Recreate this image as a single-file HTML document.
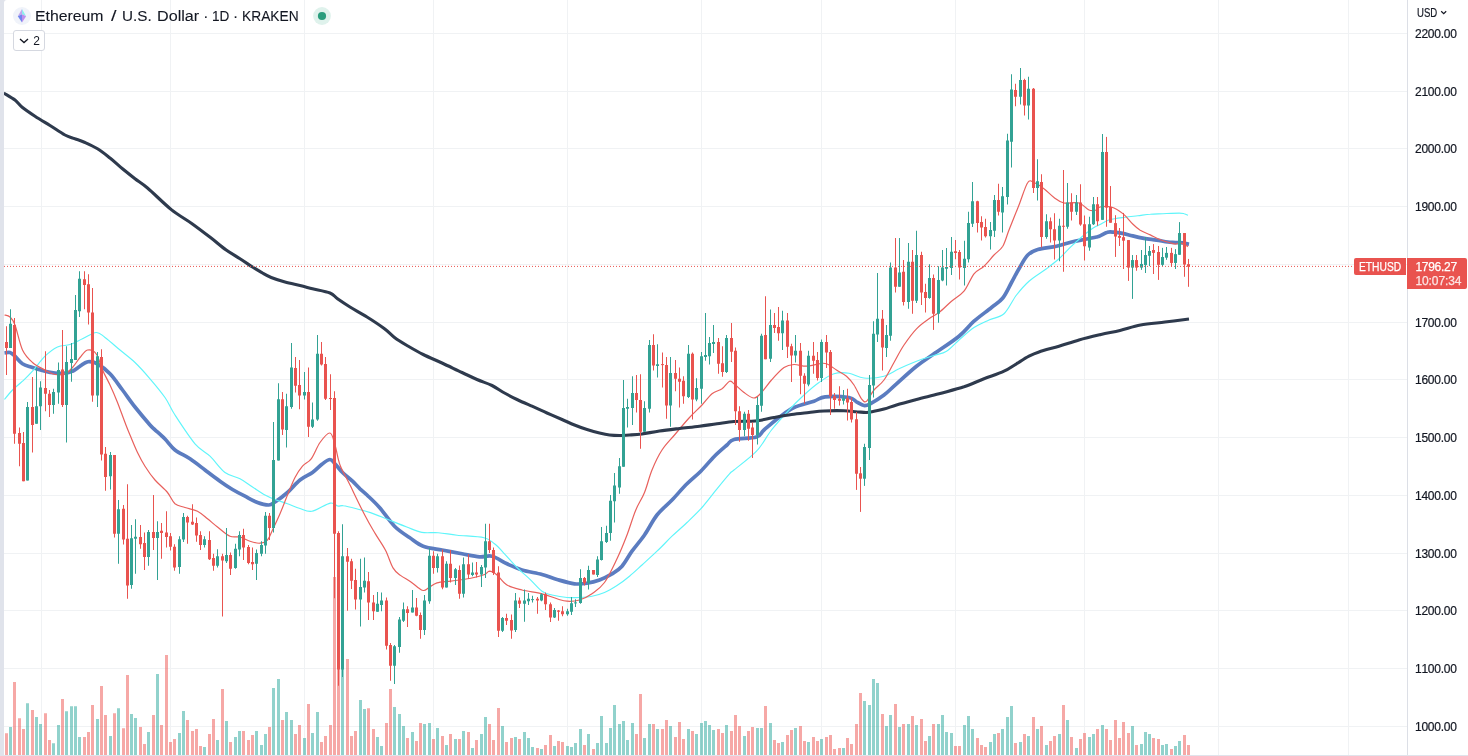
<!DOCTYPE html>
<html><head><meta charset="utf-8"><title>ETHUSD</title>
<style>
html,body{margin:0;padding:0;background:#fff;}
body{width:1468px;height:756px;position:relative;overflow:hidden;font-family:"Liberation Sans",sans-serif;color:#131722;}
.strip{position:absolute;left:0;top:0;width:4px;height:756px;background:#e0e3eb;}
.corner{position:absolute;left:3.6px;top:0;width:8px;height:8px;background:#e0e3eb;}
.corner i{position:absolute;left:0;top:0;width:16px;height:16px;background:#fff;border-radius:3px 0 0 0;display:block}
.bottom{position:absolute;left:0;top:755px;width:1468px;height:1px;background:#e0e3eb;}
.pl{font-kerning:none;-webkit-text-stroke:0.2px #131722;position:absolute;left:1415px;font-size:12px;line-height:14px;letter-spacing:-0.26px;white-space:nowrap;color:#131722}
.title{position:absolute;left:35px;top:7px;font-size:15.4px;line-height:18px;white-space:nowrap;color:#131722;-webkit-text-stroke:0.1px #131722}
.title span{position:absolute;top:0;transform-origin:0 0;display:block}
.usd{-webkit-text-stroke:0.2px #131722;position:absolute;left:1417px;top:6px;font-size:12px;line-height:14px;transform:scaleX(0.8);transform-origin:0 0}
.tag{font-kerning:none;-webkit-text-stroke:0.25px #fff;position:absolute;background:#e9534f;color:#fff;font-size:12px;line-height:14px;white-space:nowrap}
.btn{position:absolute;left:13px;top:30px;width:29.5px;height:18.5px;border:1px solid #d5d8e0;border-radius:3px;background:#fff;font-size:12px}
</style></head><body>
<svg width="1468" height="756" viewBox="0 0 1468 756" style="position:absolute;left:0;top:0">
<g stroke="#f0f2f4" stroke-width="1" shape-rendering="crispEdges">
<line x1="4" x2="1407" y1="726.35" y2="726.35"/>
<line x1="4" x2="1407" y1="668.60" y2="668.60"/>
<line x1="4" x2="1407" y1="610.85" y2="610.85"/>
<line x1="4" x2="1407" y1="553.10" y2="553.10"/>
<line x1="4" x2="1407" y1="495.35" y2="495.35"/>
<line x1="4" x2="1407" y1="437.60" y2="437.60"/>
<line x1="4" x2="1407" y1="379.85" y2="379.85"/>
<line x1="4" x2="1407" y1="322.10" y2="322.10"/>
<line x1="4" x2="1407" y1="264.35" y2="264.35"/>
<line x1="4" x2="1407" y1="206.60" y2="206.60"/>
<line x1="4" x2="1407" y1="148.85" y2="148.85"/>
<line x1="4" x2="1407" y1="91.10" y2="91.10"/>
<line x1="4" x2="1407" y1="33.35" y2="33.35"/>
<line x1="41.50" x2="41.50" y1="0" y2="755"/>
<line x1="170.50" x2="170.50" y1="0" y2="755"/>
<line x1="304.60" x2="304.60" y1="0" y2="755"/>
<line x1="433.50" x2="433.50" y1="0" y2="755"/>
<line x1="567.30" x2="567.30" y1="0" y2="755"/>
<line x1="701.00" x2="701.00" y1="0" y2="755"/>
<line x1="821.70" x2="821.70" y1="0" y2="755"/>
<line x1="955.50" x2="955.50" y1="0" y2="755"/>
<line x1="1084.70" x2="1084.70" y1="0" y2="755"/>
<line x1="1218.40" x2="1218.40" y1="0" y2="755"/>
<line x1="1348.60" x2="1348.60" y1="0" y2="755"/>
</g>
<g opacity="0.5">
<rect x="5.00" y="733.25" width="3" height="21.75" fill="#ef5350"/>
<rect x="9.00" y="727.00" width="3" height="28.00" fill="#26a69a"/>
<rect x="13.00" y="682.00" width="3" height="73.00" fill="#ef5350"/>
<rect x="18.00" y="718.25" width="3" height="36.75" fill="#ef5350"/>
<rect x="22.00" y="729.00" width="3" height="26.00" fill="#ef5350"/>
<rect x="26.00" y="703.25" width="3" height="51.75" fill="#26a69a"/>
<rect x="31.00" y="710.00" width="3" height="45.00" fill="#ef5350"/>
<rect x="35.00" y="717.00" width="3" height="38.00" fill="#26a69a"/>
<rect x="39.00" y="724.00" width="3" height="31.00" fill="#26a69a"/>
<rect x="44.00" y="713.25" width="3" height="41.75" fill="#ef5350"/>
<rect x="48.00" y="740.00" width="3" height="15.00" fill="#ef5350"/>
<rect x="52.00" y="743.25" width="3" height="11.75" fill="#26a69a"/>
<rect x="57.00" y="725.00" width="3" height="30.00" fill="#26a69a"/>
<rect x="61.00" y="699.00" width="3" height="56.00" fill="#ef5350"/>
<rect x="65.00" y="711.25" width="3" height="43.75" fill="#26a69a"/>
<rect x="70.00" y="706.25" width="3" height="48.75" fill="#26a69a"/>
<rect x="74.00" y="706.25" width="3" height="48.75" fill="#26a69a"/>
<rect x="78.00" y="737.00" width="3" height="18.00" fill="#26a69a"/>
<rect x="83.00" y="737.00" width="3" height="18.00" fill="#ef5350"/>
<rect x="87.00" y="732.00" width="3" height="23.00" fill="#ef5350"/>
<rect x="91.00" y="705.00" width="3" height="50.00" fill="#ef5350"/>
<rect x="96.00" y="719.00" width="3" height="36.00" fill="#26a69a"/>
<rect x="100.00" y="686.00" width="3" height="69.00" fill="#ef5350"/>
<rect x="104.00" y="715.00" width="3" height="40.00" fill="#ef5350"/>
<rect x="109.00" y="736.00" width="3" height="19.00" fill="#26a69a"/>
<rect x="113.00" y="713.25" width="3" height="41.75" fill="#ef5350"/>
<rect x="117.00" y="708.25" width="3" height="46.75" fill="#26a69a"/>
<rect x="122.00" y="728.25" width="3" height="26.75" fill="#ef5350"/>
<rect x="126.00" y="675.00" width="3" height="80.00" fill="#ef5350"/>
<rect x="130.00" y="714.00" width="3" height="41.00" fill="#26a69a"/>
<rect x="134.00" y="718.00" width="3" height="37.00" fill="#26a69a"/>
<rect x="139.00" y="727.00" width="3" height="28.00" fill="#ef5350"/>
<rect x="143.00" y="744.00" width="3" height="11.00" fill="#ef5350"/>
<rect x="147.00" y="732.00" width="3" height="23.00" fill="#26a69a"/>
<rect x="152.00" y="715.00" width="3" height="40.00" fill="#ef5350"/>
<rect x="156.00" y="674.00" width="3" height="81.00" fill="#26a69a"/>
<rect x="160.00" y="725.00" width="3" height="30.00" fill="#ef5350"/>
<rect x="165.00" y="655.00" width="3" height="100.00" fill="#ef5350"/>
<rect x="169.00" y="742.00" width="3" height="13.00" fill="#ef5350"/>
<rect x="173.00" y="739.00" width="3" height="16.00" fill="#ef5350"/>
<rect x="178.00" y="733.00" width="3" height="22.00" fill="#26a69a"/>
<rect x="182.00" y="711.00" width="3" height="44.00" fill="#26a69a"/>
<rect x="186.00" y="720.00" width="3" height="35.00" fill="#ef5350"/>
<rect x="191.00" y="731.00" width="3" height="24.00" fill="#ef5350"/>
<rect x="195.00" y="729.00" width="3" height="26.00" fill="#ef5350"/>
<rect x="199.00" y="746.00" width="3" height="9.00" fill="#ef5350"/>
<rect x="203.00" y="747.00" width="3" height="8.00" fill="#26a69a"/>
<rect x="208.00" y="734.00" width="3" height="21.00" fill="#ef5350"/>
<rect x="212.00" y="719.00" width="3" height="36.00" fill="#ef5350"/>
<rect x="216.00" y="740.00" width="3" height="15.00" fill="#26a69a"/>
<rect x="221.00" y="689.00" width="3" height="66.00" fill="#ef5350"/>
<rect x="225.00" y="721.00" width="3" height="34.00" fill="#26a69a"/>
<rect x="229.00" y="742.00" width="3" height="13.00" fill="#ef5350"/>
<rect x="234.00" y="737.00" width="3" height="18.00" fill="#26a69a"/>
<rect x="238.00" y="731.00" width="3" height="24.00" fill="#26a69a"/>
<rect x="242.00" y="731.00" width="3" height="24.00" fill="#ef5350"/>
<rect x="247.00" y="740.00" width="3" height="15.00" fill="#ef5350"/>
<rect x="251.00" y="735.00" width="3" height="20.00" fill="#ef5350"/>
<rect x="255.00" y="731.00" width="3" height="24.00" fill="#26a69a"/>
<rect x="260.00" y="745.00" width="3" height="10.00" fill="#26a69a"/>
<rect x="264.00" y="734.00" width="3" height="21.00" fill="#26a69a"/>
<rect x="268.00" y="727.00" width="3" height="28.00" fill="#ef5350"/>
<rect x="272.00" y="688.00" width="3" height="67.00" fill="#26a69a"/>
<rect x="277.00" y="679.00" width="3" height="76.00" fill="#26a69a"/>
<rect x="281.00" y="720.00" width="3" height="35.00" fill="#ef5350"/>
<rect x="285.00" y="712.00" width="3" height="43.00" fill="#26a69a"/>
<rect x="290.00" y="720.00" width="3" height="35.00" fill="#26a69a"/>
<rect x="294.00" y="734.00" width="3" height="21.00" fill="#ef5350"/>
<rect x="298.00" y="725.00" width="3" height="30.00" fill="#ef5350"/>
<rect x="303.00" y="738.00" width="3" height="17.00" fill="#26a69a"/>
<rect x="307.00" y="704.00" width="3" height="51.00" fill="#ef5350"/>
<rect x="311.00" y="733.00" width="3" height="22.00" fill="#26a69a"/>
<rect x="316.00" y="712.00" width="3" height="43.00" fill="#26a69a"/>
<rect x="320.00" y="742.00" width="3" height="13.00" fill="#ef5350"/>
<rect x="324.00" y="736.00" width="3" height="19.00" fill="#ef5350"/>
<rect x="329.00" y="725.00" width="3" height="30.00" fill="#ef5350"/>
<rect x="333.00" y="577.00" width="3" height="178.00" fill="#ef5350"/>
<rect x="337.00" y="629.50" width="3" height="125.50" fill="#ef5350"/>
<rect x="341.00" y="644.00" width="3" height="111.00" fill="#26a69a"/>
<rect x="346.00" y="659.00" width="3" height="96.00" fill="#ef5350"/>
<rect x="350.00" y="736.00" width="3" height="19.00" fill="#ef5350"/>
<rect x="354.00" y="731.00" width="3" height="24.00" fill="#ef5350"/>
<rect x="359.00" y="700.00" width="3" height="55.00" fill="#26a69a"/>
<rect x="363.00" y="709.00" width="3" height="46.00" fill="#26a69a"/>
<rect x="367.00" y="708.25" width="3" height="46.75" fill="#ef5350"/>
<rect x="372.00" y="729.00" width="3" height="26.00" fill="#ef5350"/>
<rect x="376.00" y="737.00" width="3" height="18.00" fill="#26a69a"/>
<rect x="380.00" y="746.00" width="3" height="9.00" fill="#26a69a"/>
<rect x="385.00" y="723.00" width="3" height="32.00" fill="#ef5350"/>
<rect x="389.00" y="689.00" width="3" height="66.00" fill="#ef5350"/>
<rect x="393.00" y="707.00" width="3" height="48.00" fill="#26a69a"/>
<rect x="398.00" y="714.00" width="3" height="41.00" fill="#26a69a"/>
<rect x="402.00" y="726.00" width="3" height="29.00" fill="#26a69a"/>
<rect x="406.00" y="738.00" width="3" height="17.00" fill="#ef5350"/>
<rect x="411.00" y="732.00" width="3" height="23.00" fill="#26a69a"/>
<rect x="415.00" y="741.00" width="3" height="14.00" fill="#ef5350"/>
<rect x="419.00" y="723.00" width="3" height="32.00" fill="#ef5350"/>
<rect x="423.00" y="724.00" width="3" height="31.00" fill="#26a69a"/>
<rect x="428.00" y="723.00" width="3" height="32.00" fill="#26a69a"/>
<rect x="432.00" y="739.00" width="3" height="16.00" fill="#ef5350"/>
<rect x="436.00" y="728.00" width="3" height="27.00" fill="#26a69a"/>
<rect x="441.00" y="736.00" width="3" height="19.00" fill="#ef5350"/>
<rect x="445.00" y="745.00" width="3" height="10.00" fill="#26a69a"/>
<rect x="449.00" y="734.00" width="3" height="21.00" fill="#ef5350"/>
<rect x="454.00" y="739.00" width="3" height="16.00" fill="#26a69a"/>
<rect x="458.00" y="739.00" width="3" height="16.00" fill="#ef5350"/>
<rect x="462.00" y="731.00" width="3" height="24.00" fill="#26a69a"/>
<rect x="467.00" y="732.00" width="3" height="23.00" fill="#ef5350"/>
<rect x="471.00" y="748.00" width="3" height="7.00" fill="#26a69a"/>
<rect x="475.00" y="740.00" width="3" height="15.00" fill="#ef5350"/>
<rect x="480.00" y="734.00" width="3" height="21.00" fill="#26a69a"/>
<rect x="484.00" y="717.00" width="3" height="38.00" fill="#26a69a"/>
<rect x="488.00" y="724.00" width="3" height="31.00" fill="#ef5350"/>
<rect x="492.00" y="740.00" width="3" height="15.00" fill="#ef5350"/>
<rect x="497.00" y="708.00" width="3" height="47.00" fill="#ef5350"/>
<rect x="501.00" y="726.00" width="3" height="29.00" fill="#26a69a"/>
<rect x="505.00" y="742.00" width="3" height="13.00" fill="#ef5350"/>
<rect x="510.00" y="738.00" width="3" height="17.00" fill="#ef5350"/>
<rect x="514.00" y="737.00" width="3" height="18.00" fill="#26a69a"/>
<rect x="518.00" y="739.00" width="3" height="16.00" fill="#ef5350"/>
<rect x="523.00" y="732.00" width="3" height="23.00" fill="#26a69a"/>
<rect x="527.00" y="738.00" width="3" height="17.00" fill="#26a69a"/>
<rect x="531.00" y="747.00" width="3" height="8.00" fill="#26a69a"/>
<rect x="536.00" y="748.00" width="3" height="7.00" fill="#ef5350"/>
<rect x="540.00" y="749.00" width="3" height="6.00" fill="#26a69a"/>
<rect x="544.00" y="745.00" width="3" height="10.00" fill="#ef5350"/>
<rect x="549.00" y="735.00" width="3" height="20.00" fill="#ef5350"/>
<rect x="553.00" y="746.00" width="3" height="9.00" fill="#26a69a"/>
<rect x="557.00" y="741.00" width="3" height="14.00" fill="#ef5350"/>
<rect x="561.00" y="742.00" width="3" height="13.00" fill="#ef5350"/>
<rect x="566.00" y="746.00" width="3" height="9.00" fill="#26a69a"/>
<rect x="570.00" y="747.00" width="3" height="8.00" fill="#26a69a"/>
<rect x="574.00" y="743.00" width="3" height="12.00" fill="#26a69a"/>
<rect x="579.00" y="729.00" width="3" height="26.00" fill="#26a69a"/>
<rect x="583.00" y="745.00" width="3" height="10.00" fill="#ef5350"/>
<rect x="587.00" y="734.00" width="3" height="21.00" fill="#26a69a"/>
<rect x="592.00" y="749.00" width="3" height="6.00" fill="#ef5350"/>
<rect x="596.00" y="743.00" width="3" height="12.00" fill="#26a69a"/>
<rect x="600.00" y="716.00" width="3" height="39.00" fill="#26a69a"/>
<rect x="605.00" y="743.00" width="3" height="12.00" fill="#26a69a"/>
<rect x="609.00" y="728.00" width="3" height="27.00" fill="#26a69a"/>
<rect x="613.00" y="705.00" width="3" height="50.00" fill="#26a69a"/>
<rect x="618.00" y="724.00" width="3" height="31.00" fill="#26a69a"/>
<rect x="622.00" y="721.00" width="3" height="34.00" fill="#26a69a"/>
<rect x="626.00" y="740.00" width="3" height="15.00" fill="#26a69a"/>
<rect x="631.00" y="723.00" width="3" height="32.00" fill="#26a69a"/>
<rect x="635.00" y="734.00" width="3" height="21.00" fill="#ef5350"/>
<rect x="639.00" y="694.00" width="3" height="61.00" fill="#ef5350"/>
<rect x="643.00" y="738.00" width="3" height="17.00" fill="#26a69a"/>
<rect x="648.00" y="724.00" width="3" height="31.00" fill="#26a69a"/>
<rect x="652.00" y="724.00" width="3" height="31.00" fill="#ef5350"/>
<rect x="656.00" y="729.00" width="3" height="26.00" fill="#26a69a"/>
<rect x="661.00" y="729.00" width="3" height="26.00" fill="#ef5350"/>
<rect x="665.00" y="720.00" width="3" height="35.00" fill="#ef5350"/>
<rect x="669.00" y="726.00" width="3" height="29.00" fill="#26a69a"/>
<rect x="674.00" y="737.00" width="3" height="18.00" fill="#ef5350"/>
<rect x="678.00" y="722.00" width="3" height="33.00" fill="#ef5350"/>
<rect x="682.00" y="739.00" width="3" height="16.00" fill="#ef5350"/>
<rect x="687.00" y="729.00" width="3" height="26.00" fill="#26a69a"/>
<rect x="691.00" y="731.00" width="3" height="24.00" fill="#ef5350"/>
<rect x="695.00" y="734.00" width="3" height="21.00" fill="#26a69a"/>
<rect x="700.00" y="723.00" width="3" height="32.00" fill="#26a69a"/>
<rect x="704.00" y="721.00" width="3" height="34.00" fill="#26a69a"/>
<rect x="708.00" y="725.00" width="3" height="30.00" fill="#26a69a"/>
<rect x="712.00" y="730.00" width="3" height="25.00" fill="#26a69a"/>
<rect x="717.00" y="729.00" width="3" height="26.00" fill="#ef5350"/>
<rect x="721.00" y="733.00" width="3" height="22.00" fill="#ef5350"/>
<rect x="725.00" y="725.00" width="3" height="30.00" fill="#26a69a"/>
<rect x="730.00" y="731.00" width="3" height="24.00" fill="#ef5350"/>
<rect x="734.00" y="715.00" width="3" height="40.00" fill="#ef5350"/>
<rect x="738.00" y="726.00" width="3" height="29.00" fill="#ef5350"/>
<rect x="743.00" y="736.00" width="3" height="19.00" fill="#26a69a"/>
<rect x="747.00" y="731.00" width="3" height="24.00" fill="#ef5350"/>
<rect x="751.00" y="727.00" width="3" height="28.00" fill="#ef5350"/>
<rect x="756.00" y="728.00" width="3" height="27.00" fill="#26a69a"/>
<rect x="760.00" y="728.00" width="3" height="27.00" fill="#26a69a"/>
<rect x="764.00" y="706.00" width="3" height="49.00" fill="#ef5350"/>
<rect x="769.00" y="723.00" width="3" height="32.00" fill="#26a69a"/>
<rect x="773.00" y="740.00" width="3" height="15.00" fill="#ef5350"/>
<rect x="777.00" y="743.00" width="3" height="12.00" fill="#ef5350"/>
<rect x="781.00" y="742.00" width="3" height="13.00" fill="#26a69a"/>
<rect x="786.00" y="735.00" width="3" height="20.00" fill="#ef5350"/>
<rect x="790.00" y="730.00" width="3" height="25.00" fill="#ef5350"/>
<rect x="794.00" y="728.00" width="3" height="27.00" fill="#26a69a"/>
<rect x="799.00" y="726.00" width="3" height="29.00" fill="#ef5350"/>
<rect x="803.00" y="741.00" width="3" height="14.00" fill="#ef5350"/>
<rect x="807.00" y="742.00" width="3" height="13.00" fill="#26a69a"/>
<rect x="812.00" y="737.00" width="3" height="18.00" fill="#ef5350"/>
<rect x="816.00" y="741.00" width="3" height="14.00" fill="#ef5350"/>
<rect x="820.00" y="739.00" width="3" height="16.00" fill="#26a69a"/>
<rect x="825.00" y="737.00" width="3" height="18.00" fill="#ef5350"/>
<rect x="829.00" y="735.00" width="3" height="20.00" fill="#ef5350"/>
<rect x="833.00" y="749.00" width="3" height="6.00" fill="#ef5350"/>
<rect x="838.00" y="748.00" width="3" height="7.00" fill="#ef5350"/>
<rect x="842.00" y="748.00" width="3" height="7.00" fill="#26a69a"/>
<rect x="846.00" y="738.00" width="3" height="17.00" fill="#ef5350"/>
<rect x="850.00" y="744.00" width="3" height="11.00" fill="#ef5350"/>
<rect x="855.00" y="724.00" width="3" height="31.00" fill="#ef5350"/>
<rect x="859.00" y="693.00" width="3" height="62.00" fill="#ef5350"/>
<rect x="863.00" y="701.00" width="3" height="54.00" fill="#26a69a"/>
<rect x="868.00" y="705.00" width="3" height="50.00" fill="#26a69a"/>
<rect x="872.00" y="679.00" width="3" height="76.00" fill="#26a69a"/>
<rect x="876.00" y="683.00" width="3" height="72.00" fill="#26a69a"/>
<rect x="881.00" y="714.00" width="3" height="41.00" fill="#ef5350"/>
<rect x="885.00" y="726.00" width="3" height="29.00" fill="#26a69a"/>
<rect x="889.00" y="715.00" width="3" height="40.00" fill="#26a69a"/>
<rect x="894.00" y="704.00" width="3" height="51.00" fill="#ef5350"/>
<rect x="898.00" y="727.00" width="3" height="28.00" fill="#26a69a"/>
<rect x="902.00" y="724.00" width="3" height="31.00" fill="#ef5350"/>
<rect x="907.00" y="724.00" width="3" height="31.00" fill="#26a69a"/>
<rect x="911.00" y="716.00" width="3" height="39.00" fill="#ef5350"/>
<rect x="915.00" y="725.00" width="3" height="30.00" fill="#26a69a"/>
<rect x="920.00" y="719.00" width="3" height="36.00" fill="#ef5350"/>
<rect x="924.00" y="741.00" width="3" height="14.00" fill="#ef5350"/>
<rect x="928.00" y="736.00" width="3" height="19.00" fill="#26a69a"/>
<rect x="932.00" y="724.00" width="3" height="31.00" fill="#ef5350"/>
<rect x="937.00" y="724.00" width="3" height="31.00" fill="#26a69a"/>
<rect x="941.00" y="715.00" width="3" height="40.00" fill="#26a69a"/>
<rect x="945.00" y="732.00" width="3" height="23.00" fill="#26a69a"/>
<rect x="950.00" y="733.00" width="3" height="22.00" fill="#26a69a"/>
<rect x="954.00" y="746.00" width="3" height="9.00" fill="#ef5350"/>
<rect x="958.00" y="746.00" width="3" height="9.00" fill="#ef5350"/>
<rect x="963.00" y="725.00" width="3" height="30.00" fill="#26a69a"/>
<rect x="967.00" y="716.00" width="3" height="39.00" fill="#26a69a"/>
<rect x="971.00" y="729.00" width="3" height="26.00" fill="#26a69a"/>
<rect x="976.00" y="738.00" width="3" height="17.00" fill="#ef5350"/>
<rect x="980.00" y="745.00" width="3" height="10.00" fill="#ef5350"/>
<rect x="984.00" y="747.00" width="3" height="8.00" fill="#ef5350"/>
<rect x="989.00" y="742.00" width="3" height="13.00" fill="#26a69a"/>
<rect x="993.00" y="734.00" width="3" height="21.00" fill="#26a69a"/>
<rect x="997.00" y="733.00" width="3" height="22.00" fill="#ef5350"/>
<rect x="1001.00" y="729.00" width="3" height="26.00" fill="#26a69a"/>
<rect x="1006.00" y="717.00" width="3" height="38.00" fill="#26a69a"/>
<rect x="1010.00" y="706.00" width="3" height="49.00" fill="#26a69a"/>
<rect x="1014.00" y="743.00" width="3" height="12.00" fill="#ef5350"/>
<rect x="1019.00" y="742.00" width="3" height="13.00" fill="#26a69a"/>
<rect x="1023.00" y="734.00" width="3" height="21.00" fill="#ef5350"/>
<rect x="1027.00" y="736.00" width="3" height="19.00" fill="#26a69a"/>
<rect x="1032.00" y="717.00" width="3" height="38.00" fill="#ef5350"/>
<rect x="1036.00" y="729.00" width="3" height="26.00" fill="#26a69a"/>
<rect x="1040.00" y="726.00" width="3" height="29.00" fill="#ef5350"/>
<rect x="1045.00" y="745.00" width="3" height="10.00" fill="#26a69a"/>
<rect x="1049.00" y="741.00" width="3" height="14.00" fill="#ef5350"/>
<rect x="1053.00" y="736.00" width="3" height="19.00" fill="#ef5350"/>
<rect x="1058.00" y="734.00" width="3" height="21.00" fill="#26a69a"/>
<rect x="1062.00" y="705.00" width="3" height="50.00" fill="#ef5350"/>
<rect x="1066.00" y="720.00" width="3" height="35.00" fill="#26a69a"/>
<rect x="1070.00" y="737.00" width="3" height="18.00" fill="#ef5350"/>
<rect x="1075.00" y="748.00" width="3" height="7.00" fill="#26a69a"/>
<rect x="1079.00" y="739.00" width="3" height="16.00" fill="#ef5350"/>
<rect x="1083.00" y="733.00" width="3" height="22.00" fill="#ef5350"/>
<rect x="1088.00" y="737.00" width="3" height="18.00" fill="#26a69a"/>
<rect x="1092.00" y="734.00" width="3" height="21.00" fill="#26a69a"/>
<rect x="1096.00" y="729.00" width="3" height="26.00" fill="#ef5350"/>
<rect x="1101.00" y="725.00" width="3" height="30.00" fill="#26a69a"/>
<rect x="1105.00" y="729.00" width="3" height="26.00" fill="#ef5350"/>
<rect x="1109.00" y="740.00" width="3" height="15.00" fill="#ef5350"/>
<rect x="1114.00" y="720.00" width="3" height="35.00" fill="#ef5350"/>
<rect x="1118.00" y="738.00" width="3" height="17.00" fill="#ef5350"/>
<rect x="1122.00" y="722.00" width="3" height="33.00" fill="#ef5350"/>
<rect x="1127.00" y="733.00" width="3" height="22.00" fill="#ef5350"/>
<rect x="1131.00" y="726.00" width="3" height="29.00" fill="#26a69a"/>
<rect x="1135.00" y="745.00" width="3" height="10.00" fill="#ef5350"/>
<rect x="1140.00" y="744.00" width="3" height="11.00" fill="#26a69a"/>
<rect x="1144.00" y="732.00" width="3" height="23.00" fill="#26a69a"/>
<rect x="1148.00" y="734.00" width="3" height="21.00" fill="#26a69a"/>
<rect x="1152.00" y="738.00" width="3" height="17.00" fill="#ef5350"/>
<rect x="1157.00" y="739.00" width="3" height="16.00" fill="#ef5350"/>
<rect x="1161.00" y="745.00" width="3" height="10.00" fill="#26a69a"/>
<rect x="1165.00" y="744.00" width="3" height="11.00" fill="#26a69a"/>
<rect x="1170.00" y="749.00" width="3" height="6.00" fill="#ef5350"/>
<rect x="1174.00" y="746.00" width="3" height="9.00" fill="#26a69a"/>
<rect x="1178.00" y="741.00" width="3" height="14.00" fill="#26a69a"/>
<rect x="1183.00" y="735.00" width="3" height="20.00" fill="#ef5350"/>
<rect x="1187.00" y="745.00" width="3" height="10.00" fill="#ef5350"/>
</g>
<path d="M4.5,353.0 C5.4,352.9 8.2,352.0 10.0,352.5 C11.8,353.0 12.9,354.4 15.0,356.2 C17.1,358.1 19.6,361.9 22.5,363.8 C25.4,365.6 28.8,366.2 32.5,367.5 C36.2,368.8 41.2,370.3 45.0,371.2 C48.8,372.2 51.7,372.7 55.0,373.0 C58.3,373.3 62.1,373.5 65.0,373.2 C67.9,373.0 70.0,372.4 72.5,371.2 C75.0,370.1 77.5,367.8 80.0,366.2 C82.5,364.7 84.6,362.2 87.5,361.8 C90.4,361.3 93.8,361.8 97.5,363.8 C101.2,365.8 105.8,369.4 110.0,373.8 C114.2,378.1 118.3,384.5 122.5,390.0 C126.7,395.5 130.4,401.2 135.0,407.0 C139.6,412.8 146.7,421.2 150.0,425.0 C153.3,428.8 152.5,427.4 155.0,429.8 C157.5,432.1 161.7,435.6 165.0,439.0 C168.3,442.4 170.8,446.7 175.0,450.0 C179.2,453.3 185.0,455.4 190.0,458.8 C195.0,462.1 200.0,466.2 205.0,470.0 C210.0,473.8 215.4,478.0 220.0,481.2 C224.6,484.5 228.3,487.0 232.5,489.5 C236.7,492.0 240.8,494.1 245.0,496.2 C249.2,498.4 253.5,501.0 257.5,502.5 C261.5,504.0 265.8,505.1 268.8,505.0 C271.7,504.9 271.9,504.1 275.0,502.0 C278.1,499.9 283.3,496.2 287.5,492.5 C291.7,488.8 295.8,483.3 300.0,480.0 C304.2,476.7 308.8,475.2 312.5,472.5 C316.2,469.8 319.6,465.9 322.5,463.8 C325.4,461.6 327.9,459.5 330.0,459.5 C332.1,459.5 332.9,461.6 335.0,463.8 C337.1,465.9 339.6,469.6 342.5,472.5 C345.4,475.4 349.6,478.5 352.5,481.2 C355.4,484.0 357.6,486.5 360.0,488.8 C362.4,491.0 363.8,491.9 367.0,495.0 C370.2,498.1 374.9,502.3 379.5,507.5 C384.1,512.7 389.5,521.2 394.5,526.2 C399.5,531.2 404.7,534.2 409.5,537.5 C414.3,540.8 417.8,544.2 423.2,546.2 C428.7,548.3 435.5,548.8 442.0,550.0 C448.5,551.2 455.8,552.6 462.0,553.8 C468.2,554.9 474.5,556.3 479.5,556.8 C484.5,557.2 487.4,555.1 492.0,556.2 C496.6,557.4 502.0,561.5 507.0,563.8 C512.0,566.0 516.2,568.2 522.0,570.0 C527.8,571.8 536.2,572.9 542.0,574.5 C547.8,576.1 551.6,578.0 557.0,579.5 C562.4,581.0 569.5,583.1 574.5,583.8 C579.5,584.4 582.8,583.9 587.0,583.2 C591.2,582.6 595.3,581.6 599.5,580.0 C603.7,578.4 608.2,576.0 612.0,573.8 C615.8,571.5 618.7,570.0 622.0,566.2 C625.3,562.5 628.2,556.5 632.0,551.2 C635.8,546.0 640.3,541.0 644.5,535.0 C648.7,529.0 652.4,520.8 657.0,515.0 C661.6,509.2 667.0,505.2 672.0,500.0 C677.0,494.8 682.2,488.5 687.0,483.8 C691.8,479.0 696.2,475.8 700.8,471.2 C705.3,466.7 710.1,460.6 714.5,456.2 C718.9,451.9 723.8,447.8 727.0,445.0 C730.2,442.2 729.1,440.8 734.0,439.5 C738.9,438.2 751.5,438.6 756.5,437.0 C761.5,435.4 760.2,433.2 764.0,430.0 C767.8,426.8 774.0,421.2 779.0,417.5 C784.0,413.8 788.2,410.2 794.0,407.5 C799.8,404.8 808.8,403.0 814.0,401.2 C819.2,399.5 819.4,397.4 825.2,396.8 C831.1,396.1 843.8,396.7 849.0,397.5 C854.2,398.3 854.0,400.4 856.5,401.8 C859.0,403.1 861.7,405.2 864.0,405.5 C866.3,405.8 866.9,405.5 870.2,403.8 C873.6,402.0 879.6,398.3 884.0,395.0 C888.4,391.7 891.1,388.5 896.5,383.8 C901.9,379.0 910.2,371.2 916.5,366.2 C922.8,361.2 926.9,358.8 934.0,353.8 C941.1,348.8 952.3,341.7 959.0,336.2 C965.7,330.8 968.6,326.0 974.0,321.2 C979.4,316.5 986.7,311.4 991.5,307.5 C996.3,303.6 999.4,302.2 1002.8,298.0 C1006.1,293.8 1008.8,287.4 1011.5,282.5 C1014.2,277.6 1016.3,273.3 1019.0,268.8 C1021.7,264.2 1024.6,258.2 1027.8,255.0 C1030.9,251.8 1033.0,251.0 1037.8,249.5 C1042.5,248.0 1050.9,247.5 1056.5,246.2 C1062.1,245.0 1066.9,243.1 1071.5,242.0 C1076.1,240.9 1079.8,240.3 1084.0,239.5 C1088.2,238.7 1093.8,237.6 1096.5,237.0 C1099.2,236.4 1098.2,236.7 1100.0,235.9 C1101.8,235.1 1105.2,232.8 1107.5,232.2 C1109.8,231.5 1111.3,231.9 1113.8,232.2 C1116.3,232.4 1119.5,232.8 1122.6,233.4 C1125.8,234.0 1129.1,235.1 1132.7,235.9 C1136.2,236.8 1140.0,237.7 1144.0,238.4 C1148.0,239.1 1152.6,239.5 1156.6,240.1 C1160.5,240.7 1164.7,241.6 1167.9,242.0 C1171.0,242.4 1172.9,242.3 1175.4,242.5 C1177.9,242.6 1180.7,242.5 1182.9,242.8 C1185.2,243.2 1188.0,244.1 1189.0,244.3" fill="none" stroke="#5b7cc0" stroke-width="3.7" stroke-linejoin="round"/>
<path d="M4.5,399.5 C5.8,397.9 9.5,393.0 12.5,390.0 C15.5,387.0 19.2,384.4 22.5,381.2 C25.8,378.1 28.8,375.4 32.5,371.2 C36.2,367.1 40.8,360.3 45.0,356.2 C49.2,352.2 53.3,349.0 57.5,347.0 C61.7,345.0 65.8,345.9 70.0,344.5 C74.2,343.1 78.1,340.8 82.5,338.8 C86.9,336.8 92.5,332.7 96.2,332.5 C100.0,332.3 101.0,334.6 105.0,337.5 C109.0,340.4 115.0,345.8 120.0,350.0 C125.0,354.2 130.0,357.7 135.0,362.5 C140.0,367.3 145.0,372.9 150.0,378.8 C155.0,384.6 160.8,391.5 165.0,397.5 C169.2,403.5 170.0,407.3 175.0,415.0 C180.0,422.7 189.2,436.9 195.0,443.8 C200.8,450.6 205.0,451.5 210.0,456.2 C215.0,461.0 220.0,468.8 225.0,472.5 C230.0,476.2 235.4,476.3 240.0,478.8 C244.6,481.2 248.3,484.3 252.5,487.0 C256.7,489.7 261.2,492.9 265.0,495.0 C268.8,497.1 271.2,498.0 275.0,499.5 C278.8,501.0 283.3,502.2 287.5,503.8 C291.7,505.3 295.9,507.3 300.0,508.5 C304.1,509.8 306.9,512.2 311.9,511.3 C317.0,510.4 325.9,504.0 330.2,503.1 C334.5,502.3 335.5,505.6 337.7,506.0 C339.9,506.5 340.2,505.2 343.4,505.7 C346.5,506.1 352.1,507.6 356.6,508.8 C361.1,509.9 365.1,510.8 370.4,512.6 C375.6,514.3 381.9,517.1 388.0,519.5 C394.0,521.9 401.2,524.9 406.8,527.0 C412.5,529.2 416.7,531.5 421.9,532.4 C427.1,533.4 432.4,532.2 438.2,532.7 C444.1,533.1 449.5,534.4 457.1,535.2 C464.7,536.0 477.8,536.3 484.0,537.7 C490.2,539.1 491.1,541.1 494.5,543.8 C497.9,546.4 500.8,549.8 504.5,553.8 C508.2,557.7 512.8,563.3 517.0,567.5 C521.2,571.7 525.3,574.8 529.5,578.8 C533.7,582.7 538.2,588.5 542.0,591.2 C545.8,594.0 547.8,594.0 552.0,595.0 C556.2,596.0 562.4,597.1 567.0,597.5 C571.6,597.9 575.3,597.7 579.5,597.5 C583.7,597.3 587.8,597.1 592.0,596.2 C596.2,595.4 600.3,594.3 604.5,592.5 C608.7,590.7 612.8,588.2 617.0,585.5 C621.2,582.8 625.3,579.7 629.5,576.2 C633.7,572.8 637.4,569.2 642.0,565.0 C646.6,560.8 652.0,556.0 657.0,551.2 C662.0,546.5 667.0,541.0 672.0,536.2 C677.0,531.5 682.0,527.3 687.0,522.5 C692.0,517.7 697.0,513.1 702.0,507.5 C707.0,501.9 712.4,494.4 717.0,488.8 C721.6,483.1 726.7,476.9 729.5,473.8 C732.3,470.6 729.5,473.8 734.0,470.0 C738.5,466.2 750.2,457.9 756.5,451.2 C762.8,444.6 766.1,436.9 771.5,430.0 C776.9,423.1 783.6,415.8 789.0,410.0 C794.4,404.2 799.0,399.6 804.0,395.0 C809.0,390.4 814.0,386.0 819.0,382.5 C824.0,379.0 829.0,375.3 834.0,373.8 C839.0,372.2 844.0,372.5 849.0,373.2 C854.0,374.0 858.2,377.5 864.0,378.0 C869.8,378.5 878.2,377.8 884.0,376.2 C889.8,374.7 893.6,371.2 899.0,368.8 C904.4,366.2 910.7,363.5 916.5,361.2 C922.3,359.0 929.0,357.2 934.0,355.5 C939.0,353.8 942.3,353.8 946.5,351.2 C950.7,348.7 954.4,344.0 959.0,340.0 C963.6,336.0 969.0,330.8 974.0,327.5 C979.0,324.2 984.0,322.3 989.0,320.0 C994.0,317.7 999.4,317.9 1004.0,313.8 C1008.6,309.6 1012.3,300.4 1016.5,295.0 C1020.7,289.6 1024.0,285.6 1029.0,281.2 C1034.0,276.9 1041.5,272.5 1046.5,268.8 C1051.5,265.0 1054.8,262.5 1059.0,258.8 C1063.2,255.0 1067.3,250.2 1071.5,246.2 C1075.7,242.3 1080.2,238.1 1084.0,235.0 C1087.8,231.9 1091.3,229.2 1094.0,227.5 C1096.7,225.8 1097.7,225.8 1100.0,224.6 C1102.3,223.4 1105.0,221.5 1107.5,220.5 C1110.1,219.5 1112.1,219.2 1115.1,218.7 C1118.0,218.2 1121.4,217.8 1125.1,217.3 C1128.9,216.8 1133.5,216.3 1137.7,215.8 C1141.9,215.3 1146.1,214.5 1150.3,214.2 C1154.5,213.8 1158.0,213.9 1162.8,213.7 C1167.7,213.5 1175.6,213.1 1179.2,213.1 C1182.7,213.1 1182.7,213.3 1184.2,213.7 C1185.7,214.0 1187.3,214.9 1188.0,215.2" fill="none" stroke="#5ff5fa" stroke-width="1.15" stroke-linejoin="round"/>
<path d="M4.5,315.0 C5.4,315.3 8.2,315.3 10.0,317.0 C11.8,318.7 12.9,319.5 15.0,325.0 C17.1,330.5 19.6,343.8 22.5,350.0 C25.4,356.2 28.8,359.2 32.5,362.5 C36.2,365.8 41.2,368.0 45.0,370.0 C48.8,372.0 51.7,373.9 55.0,374.5 C58.3,375.1 62.1,374.9 65.0,373.8 C67.9,372.6 70.0,370.2 72.5,367.5 C75.0,364.8 77.5,360.4 80.0,357.5 C82.5,354.6 84.8,350.6 87.5,350.0 C90.2,349.4 93.8,350.4 96.2,353.8 C98.8,357.1 100.2,364.8 102.5,370.0 C104.8,375.2 107.5,379.6 110.0,385.0 C112.5,390.4 115.0,396.2 117.5,402.5 C120.0,408.8 122.9,417.1 125.0,422.5 C127.1,427.9 127.9,430.0 130.0,435.0 C132.1,440.0 135.0,447.3 137.5,452.5 C140.0,457.7 142.1,461.7 145.0,466.2 C147.9,470.8 151.2,475.6 155.0,480.0 C158.8,484.4 164.2,488.5 167.5,492.5 C170.8,496.5 172.1,501.2 175.0,503.8 C177.9,506.2 181.2,506.2 185.0,507.5 C188.8,508.8 193.8,509.4 197.5,511.2 C201.2,513.1 204.2,516.1 207.5,518.8 C210.8,521.4 213.8,524.1 217.5,527.0 C221.2,529.9 226.2,534.6 230.0,536.2 C233.8,537.9 236.7,536.2 240.0,537.0 C243.3,537.8 246.7,540.2 250.0,541.2 C253.3,542.3 257.1,543.5 260.0,543.2 C262.9,543.0 265.4,542.2 267.5,540.0 C269.6,537.8 270.4,534.4 272.5,530.0 C274.6,525.6 277.5,519.6 280.0,513.8 C282.5,507.9 285.0,501.0 287.5,495.0 C290.0,489.0 292.5,482.3 295.0,477.5 C297.5,472.7 299.8,469.4 302.5,466.2 C305.2,463.1 308.3,462.7 311.2,458.8 C314.2,454.8 316.9,446.8 320.0,442.5 C323.1,438.2 327.5,432.6 330.0,433.0 C332.5,433.4 333.3,439.7 335.0,445.0 C336.7,450.3 337.5,458.3 340.0,465.0 C342.5,471.7 345.8,476.4 350.0,485.0 C354.2,493.6 361.1,508.2 365.4,516.3 C369.6,524.5 372.1,528.3 375.4,533.9 C378.8,539.6 382.5,544.6 385.5,550.3 C388.4,555.9 390.5,563.7 393.0,567.9 C395.5,572.1 397.6,573.1 400.5,575.4 C403.5,577.7 407.5,579.5 410.6,581.7 C413.7,583.9 417.2,587.1 419.4,588.6 C421.6,590.1 422.1,590.7 423.8,590.5 C425.5,590.3 427.2,588.6 429.4,587.3 C431.6,586.1 433.4,584.0 437.0,582.9 C440.5,581.9 445.4,581.8 450.8,581.1 C456.3,580.3 464.1,579.6 469.7,578.5 C475.2,577.5 480.7,576.0 484.0,574.8 C487.3,573.6 487.3,571.2 489.5,571.2 C491.7,571.3 494.1,572.7 497.0,575.0 C499.9,577.3 502.8,582.5 507.0,585.0 C511.2,587.5 516.2,588.5 522.0,590.0 C527.8,591.5 536.2,592.3 542.0,593.8 C547.8,595.2 552.8,597.5 557.0,598.8 C561.2,600.0 563.2,601.0 567.0,601.2 C570.8,601.5 575.3,601.2 579.5,600.0 C583.7,598.8 587.8,596.7 592.0,593.8 C596.2,590.8 600.3,588.3 604.5,582.5 C608.7,576.7 613.2,566.7 617.0,558.8 C620.8,550.8 623.9,543.1 627.0,535.0 C630.1,526.9 632.8,517.1 635.8,510.0 C638.7,502.9 641.8,499.2 644.5,492.5 C647.2,485.8 649.1,477.1 652.0,470.0 C654.9,462.9 658.2,455.8 662.0,450.0 C665.8,444.2 669.9,440.4 674.5,435.0 C679.1,429.6 684.9,422.5 689.5,417.5 C694.1,412.5 698.2,409.0 702.0,405.0 C705.8,401.0 708.7,396.5 712.0,393.8 C715.3,391.0 719.1,390.8 722.0,388.8 C724.9,386.7 727.5,382.1 729.5,381.2 C731.5,380.4 731.6,381.9 734.0,383.8 C736.4,385.6 740.7,390.1 744.0,392.5 C747.3,394.9 751.1,398.0 754.0,398.0 C756.9,398.0 758.6,395.5 761.5,392.5 C764.4,389.5 767.8,384.2 771.5,380.0 C775.2,375.8 780.2,370.1 784.0,367.5 C787.8,364.9 790.2,364.7 794.0,364.5 C797.8,364.3 802.3,366.4 806.5,366.2 C810.7,366.1 815.7,364.2 819.0,363.8 C822.3,363.3 823.6,362.7 826.5,363.8 C829.4,364.8 833.2,367.9 836.5,370.0 C839.8,372.1 843.6,373.8 846.5,376.2 C849.4,378.8 851.5,381.2 854.0,385.0 C856.5,388.8 859.4,396.0 861.5,398.8 C863.6,401.5 864.4,402.7 866.5,401.2 C868.6,399.8 871.1,393.5 874.0,390.0 C876.9,386.5 880.7,384.6 884.0,380.0 C887.3,375.4 890.7,368.3 894.0,362.5 C897.3,356.7 900.2,350.6 904.0,345.0 C907.8,339.4 912.3,333.1 916.5,328.8 C920.7,324.4 925.2,321.5 929.0,318.8 C932.8,316.0 935.2,315.4 939.0,312.5 C942.8,309.6 947.3,304.8 951.5,301.2 C955.7,297.7 960.2,295.8 964.0,291.2 C967.8,286.7 970.7,277.9 974.0,273.8 C977.3,269.6 980.7,269.4 984.0,266.2 C987.3,263.1 990.9,258.3 994.0,255.0 C997.1,251.7 1000.2,250.4 1002.8,246.2 C1005.2,242.1 1006.3,236.9 1009.0,230.0 C1011.7,223.1 1015.9,212.9 1019.0,205.0 C1022.1,197.1 1025.2,186.2 1027.8,182.5 C1030.2,178.8 1031.3,181.5 1034.0,182.5 C1036.7,183.5 1040.7,186.2 1044.0,188.8 C1047.3,191.2 1050.7,195.1 1054.0,197.5 C1057.3,199.9 1059.8,202.1 1064.0,203.0 C1068.2,203.9 1074.8,201.8 1079.0,203.0 C1083.2,204.2 1086.1,208.8 1089.0,210.0 C1091.9,211.2 1094.7,210.5 1096.5,210.0 C1098.3,209.5 1097.5,207.5 1100.0,207.0 C1102.5,206.5 1107.4,205.9 1111.3,207.0 C1115.2,208.2 1119.7,211.1 1123.2,213.9 C1126.8,216.8 1129.8,221.3 1132.7,224.0 C1135.5,226.7 1137.3,228.4 1140.2,230.3 C1143.1,232.1 1146.9,233.3 1150.3,234.9 C1153.6,236.5 1157.0,238.4 1160.3,239.7 C1163.7,241.0 1167.9,242.1 1170.4,242.8 C1172.9,243.6 1173.7,244.1 1175.4,244.1 C1177.1,244.1 1178.3,242.4 1180.4,242.8 C1182.5,243.3 1186.7,246.0 1188.0,246.6" fill="none" stroke="#e8605c" stroke-width="1.2" stroke-linejoin="round"/>
<path d="M3.8,93.0 C5.6,94.2 11.9,97.6 15.0,100.0 C18.1,102.4 19.2,104.8 22.5,107.5 C25.8,110.2 30.4,113.2 35.0,116.2 C39.6,119.2 45.0,122.4 50.0,125.5 C55.0,128.6 60.8,132.8 65.0,135.0 C69.2,137.2 71.7,137.5 75.0,138.8 C78.3,140.0 81.2,140.8 85.0,142.5 C88.8,144.2 93.3,146.2 97.5,148.8 C101.7,151.3 105.8,154.7 110.0,158.0 C114.2,161.3 118.3,165.3 122.5,168.8 C126.7,172.2 130.8,175.5 135.0,178.8 C139.2,182.0 141.4,182.9 147.5,188.0 C153.6,193.1 163.8,203.6 171.3,209.6 C178.8,215.6 185.9,219.2 192.4,223.9 C198.9,228.6 204.9,233.2 210.5,237.5 C216.1,241.8 221.3,246.5 226.2,250.0 C231.2,253.5 235.6,255.9 240.0,258.8 C244.4,261.6 248.8,264.6 252.5,267.0 C256.2,269.4 259.4,271.2 262.5,273.0 C265.6,274.8 267.5,276.0 271.2,277.5 C275.0,279.0 280.2,280.7 285.0,282.0 C289.8,283.3 295.4,284.4 300.0,285.5 C304.6,286.6 307.5,287.5 312.5,288.8 C317.5,290.0 325.8,291.3 330.0,293.0 C334.2,294.7 334.2,296.4 337.5,298.8 C340.8,301.1 345.1,304.0 350.0,307.0 C354.9,310.0 361.2,313.4 367.0,317.0 C372.8,320.6 379.9,325.3 384.5,328.8 C389.1,332.2 390.8,334.7 394.5,337.5 C398.2,340.3 402.2,342.7 407.0,345.5 C411.8,348.3 417.4,351.6 423.2,354.5 C429.1,357.4 435.5,360.0 442.0,363.0 C448.5,366.0 456.2,369.8 462.0,372.5 C467.8,375.2 472.0,377.3 477.0,379.5 C482.0,381.7 487.4,383.2 492.0,385.5 C496.6,387.8 500.3,390.7 504.5,393.0 C508.7,395.3 512.4,397.3 517.0,399.5 C521.6,401.7 527.0,404.0 532.0,406.2 C537.0,408.5 542.0,410.8 547.0,413.0 C552.0,415.2 557.4,417.5 562.0,419.5 C566.6,421.5 570.3,423.3 574.5,425.0 C578.7,426.7 582.8,428.2 587.0,429.5 C591.2,430.8 595.8,432.1 599.5,433.0 C603.2,433.9 606.2,434.6 609.5,435.0 C612.8,435.4 616.2,435.5 619.5,435.5 C622.8,435.5 625.8,435.2 629.5,435.0 C633.2,434.8 637.0,434.7 642.0,434.0 C647.0,433.3 653.2,431.9 659.5,431.0 C665.8,430.1 672.8,429.3 679.5,428.5 C686.2,427.7 693.2,427.0 699.5,426.2 C705.8,425.5 711.2,424.5 717.0,423.8 C722.8,423.0 728.2,421.9 734.0,421.5 C739.8,421.1 747.3,421.4 751.5,421.2 C755.7,421.1 755.2,421.1 759.0,420.5 C762.8,419.9 768.6,418.5 774.0,417.5 C779.4,416.5 785.7,415.3 791.5,414.5 C797.3,413.7 803.6,413.1 809.0,412.5 C814.4,411.9 818.2,411.3 824.0,411.0 C829.8,410.7 838.6,410.6 844.0,410.8 C849.4,410.9 852.8,411.5 856.5,411.8 C860.2,412.0 863.6,412.6 866.5,412.5 C869.4,412.4 871.1,411.8 874.0,411.2 C876.9,410.7 880.2,410.0 884.0,409.0 C887.8,408.0 891.1,406.6 896.5,405.0 C901.9,403.4 909.4,401.4 916.5,399.5 C923.6,397.6 931.1,395.9 939.0,393.8 C946.9,391.6 956.5,389.2 964.0,386.8 C971.5,384.2 977.3,381.3 984.0,378.8 C990.7,376.2 998.6,373.8 1004.0,371.2 C1009.4,368.8 1012.3,366.2 1016.5,363.8 C1020.7,361.2 1025.2,358.2 1029.0,356.2 C1032.8,354.3 1034.0,353.7 1039.0,352.0 C1044.0,350.3 1052.3,348.2 1059.0,346.2 C1065.7,344.2 1072.0,342.0 1079.0,340.0 C1086.0,338.0 1094.2,336.1 1101.0,334.5 C1107.8,332.9 1113.4,332.1 1120.0,330.5 C1126.6,328.9 1133.0,326.4 1140.5,325.0 C1148.0,323.6 1156.9,323.0 1165.0,322.0 C1173.1,321.0 1185.0,319.5 1189.0,319.0" fill="none" stroke="#2e3a4d" stroke-width="3.1" stroke-linejoin="round"/>
<rect x="6.00" y="326.25" width="1" height="48.75" fill="#e9534f"/>
<rect x="5.00" y="342.00" width="3" height="6.00" fill="#e9534f"/>
<rect x="10.00" y="309.25" width="1" height="38.75" fill="#32a294"/>
<rect x="9.00" y="323.75" width="3" height="24.25" fill="#32a294"/>
<rect x="14.00" y="318.00" width="1" height="125.75" fill="#e9534f"/>
<rect x="13.00" y="325.00" width="3" height="108.75" fill="#e9534f"/>
<rect x="19.00" y="427.50" width="1" height="38.75" fill="#e9534f"/>
<rect x="18.00" y="433.00" width="3" height="10.75" fill="#e9534f"/>
<rect x="23.00" y="432.00" width="1" height="49.25" fill="#e9534f"/>
<rect x="22.00" y="443.00" width="3" height="38.25" fill="#e9534f"/>
<rect x="27.00" y="402.00" width="1" height="78.50" fill="#32a294"/>
<rect x="26.00" y="407.00" width="3" height="73.50" fill="#32a294"/>
<rect x="32.00" y="377.00" width="1" height="75.50" fill="#e9534f"/>
<rect x="31.00" y="407.00" width="3" height="18.00" fill="#e9534f"/>
<rect x="36.00" y="367.50" width="1" height="56.25" fill="#32a294"/>
<rect x="35.00" y="406.25" width="3" height="17.50" fill="#32a294"/>
<rect x="40.00" y="381.25" width="1" height="48.75" fill="#32a294"/>
<rect x="39.00" y="387.50" width="3" height="18.75" fill="#32a294"/>
<rect x="45.00" y="351.25" width="1" height="60.00" fill="#e9534f"/>
<rect x="44.00" y="388.00" width="3" height="5.75" fill="#e9534f"/>
<rect x="49.00" y="390.00" width="1" height="27.00" fill="#e9534f"/>
<rect x="48.00" y="393.75" width="3" height="11.25" fill="#e9534f"/>
<rect x="53.00" y="388.75" width="1" height="25.00" fill="#32a294"/>
<rect x="52.00" y="392.00" width="3" height="13.00" fill="#32a294"/>
<rect x="58.00" y="362.50" width="1" height="41.25" fill="#32a294"/>
<rect x="57.00" y="370.00" width="3" height="22.50" fill="#32a294"/>
<rect x="62.00" y="330.00" width="1" height="77.00" fill="#e9534f"/>
<rect x="61.00" y="369.50" width="3" height="35.50" fill="#e9534f"/>
<rect x="66.00" y="346.25" width="1" height="96.25" fill="#32a294"/>
<rect x="65.00" y="362.00" width="3" height="43.00" fill="#32a294"/>
<rect x="71.00" y="343.00" width="1" height="38.75" fill="#32a294"/>
<rect x="70.00" y="359.00" width="3" height="4.00" fill="#32a294"/>
<rect x="75.00" y="295.00" width="1" height="65.00" fill="#32a294"/>
<rect x="74.00" y="310.00" width="3" height="50.00" fill="#32a294"/>
<rect x="79.00" y="271.25" width="1" height="45.75" fill="#32a294"/>
<rect x="78.00" y="278.75" width="3" height="32.50" fill="#32a294"/>
<rect x="84.00" y="271.25" width="1" height="38.00" fill="#e9534f"/>
<rect x="83.00" y="279.25" width="3" height="5.75" fill="#e9534f"/>
<rect x="88.00" y="274.25" width="1" height="50.25" fill="#e9534f"/>
<rect x="87.00" y="284.25" width="3" height="28.25" fill="#e9534f"/>
<rect x="92.00" y="288.00" width="1" height="113.75" fill="#e9534f"/>
<rect x="91.00" y="312.50" width="3" height="83.00" fill="#e9534f"/>
<rect x="97.00" y="352.00" width="1" height="55.00" fill="#32a294"/>
<rect x="96.00" y="356.25" width="3" height="39.25" fill="#32a294"/>
<rect x="101.00" y="349.25" width="1" height="111.25" fill="#e9534f"/>
<rect x="100.00" y="357.00" width="3" height="97.50" fill="#e9534f"/>
<rect x="105.00" y="447.00" width="1" height="43.75" fill="#e9534f"/>
<rect x="104.00" y="453.75" width="3" height="23.25" fill="#e9534f"/>
<rect x="110.00" y="452.00" width="1" height="37.50" fill="#32a294"/>
<rect x="109.00" y="455.00" width="3" height="21.25" fill="#32a294"/>
<rect x="114.00" y="455.00" width="1" height="82.50" fill="#e9534f"/>
<rect x="113.00" y="455.00" width="3" height="78.75" fill="#e9534f"/>
<rect x="118.00" y="500.00" width="1" height="63.75" fill="#32a294"/>
<rect x="117.00" y="509.25" width="3" height="24.50" fill="#32a294"/>
<rect x="123.00" y="505.00" width="1" height="39.50" fill="#e9534f"/>
<rect x="122.00" y="508.75" width="3" height="30.75" fill="#e9534f"/>
<rect x="127.00" y="484.25" width="1" height="114.50" fill="#e9534f"/>
<rect x="126.00" y="538.75" width="3" height="46.75" fill="#e9534f"/>
<rect x="131.00" y="525.00" width="1" height="63.75" fill="#32a294"/>
<rect x="130.00" y="538.25" width="3" height="46.75" fill="#32a294"/>
<rect x="135.00" y="519.25" width="1" height="54.50" fill="#32a294"/>
<rect x="134.00" y="536.75" width="3" height="2.00" fill="#32a294"/>
<rect x="140.00" y="525.00" width="1" height="23.75" fill="#e9534f"/>
<rect x="139.00" y="537.00" width="3" height="7.25" fill="#e9534f"/>
<rect x="144.00" y="532.50" width="1" height="37.50" fill="#e9534f"/>
<rect x="143.00" y="543.00" width="3" height="14.00" fill="#e9534f"/>
<rect x="148.00" y="530.00" width="1" height="35.75" fill="#32a294"/>
<rect x="147.00" y="532.00" width="3" height="25.00" fill="#32a294"/>
<rect x="153.00" y="495.00" width="1" height="55.00" fill="#e9534f"/>
<rect x="152.00" y="532.00" width="3" height="6.00" fill="#e9534f"/>
<rect x="157.00" y="521.25" width="1" height="58.75" fill="#32a294"/>
<rect x="156.00" y="532.00" width="3" height="6.00" fill="#32a294"/>
<rect x="161.00" y="523.00" width="1" height="35.75" fill="#e9534f"/>
<rect x="160.00" y="530.75" width="3" height="2.25" fill="#e9534f"/>
<rect x="166.00" y="511.25" width="1" height="36.25" fill="#e9534f"/>
<rect x="165.00" y="532.50" width="3" height="4.50" fill="#e9534f"/>
<rect x="170.00" y="533.00" width="1" height="17.50" fill="#e9534f"/>
<rect x="169.00" y="536.25" width="3" height="10.50" fill="#e9534f"/>
<rect x="174.00" y="544.25" width="1" height="26.50" fill="#e9534f"/>
<rect x="173.00" y="546.75" width="3" height="20.75" fill="#e9534f"/>
<rect x="179.00" y="536.25" width="1" height="37.50" fill="#32a294"/>
<rect x="178.00" y="539.25" width="3" height="27.75" fill="#32a294"/>
<rect x="183.00" y="513.00" width="1" height="29.00" fill="#32a294"/>
<rect x="182.00" y="517.00" width="3" height="22.50" fill="#32a294"/>
<rect x="187.00" y="515.75" width="1" height="28.00" fill="#e9534f"/>
<rect x="186.00" y="517.00" width="3" height="5.50" fill="#e9534f"/>
<rect x="192.00" y="504.25" width="1" height="20.75" fill="#e9534f"/>
<rect x="191.00" y="521.75" width="3" height="2.75" fill="#e9534f"/>
<rect x="196.00" y="517.50" width="1" height="24.25" fill="#e9534f"/>
<rect x="195.00" y="523.00" width="3" height="12.50" fill="#e9534f"/>
<rect x="200.00" y="531.25" width="1" height="18.75" fill="#e9534f"/>
<rect x="199.00" y="535.00" width="3" height="10.00" fill="#e9534f"/>
<rect x="204.00" y="536.25" width="1" height="11.25" fill="#32a294"/>
<rect x="203.00" y="539.25" width="3" height="5.75" fill="#32a294"/>
<rect x="209.00" y="531.25" width="1" height="28.75" fill="#e9534f"/>
<rect x="208.00" y="540.00" width="3" height="19.25" fill="#e9534f"/>
<rect x="213.00" y="553.75" width="1" height="17.00" fill="#e9534f"/>
<rect x="212.00" y="558.00" width="3" height="7.75" fill="#e9534f"/>
<rect x="217.00" y="549.25" width="1" height="18.25" fill="#32a294"/>
<rect x="216.00" y="556.25" width="3" height="9.50" fill="#32a294"/>
<rect x="222.00" y="553.75" width="1" height="62.75" fill="#e9534f"/>
<rect x="221.00" y="556.25" width="3" height="4.25" fill="#e9534f"/>
<rect x="226.00" y="528.00" width="1" height="35.00" fill="#32a294"/>
<rect x="225.00" y="555.00" width="3" height="6.25" fill="#32a294"/>
<rect x="230.00" y="552.50" width="1" height="22.50" fill="#e9534f"/>
<rect x="229.00" y="555.00" width="3" height="13.75" fill="#e9534f"/>
<rect x="235.00" y="543.75" width="1" height="25.00" fill="#32a294"/>
<rect x="234.00" y="548.75" width="3" height="19.25" fill="#32a294"/>
<rect x="239.00" y="531.25" width="1" height="25.00" fill="#32a294"/>
<rect x="238.00" y="535.00" width="3" height="14.50" fill="#32a294"/>
<rect x="243.00" y="528.75" width="1" height="31.25" fill="#e9534f"/>
<rect x="242.00" y="535.00" width="3" height="12.50" fill="#e9534f"/>
<rect x="248.00" y="545.00" width="1" height="19.25" fill="#e9534f"/>
<rect x="247.00" y="547.00" width="3" height="16.00" fill="#e9534f"/>
<rect x="252.00" y="547.50" width="1" height="22.50" fill="#e9534f"/>
<rect x="251.00" y="562.00" width="3" height="2.25" fill="#e9534f"/>
<rect x="256.00" y="549.50" width="1" height="30.50" fill="#32a294"/>
<rect x="255.00" y="553.00" width="3" height="10.75" fill="#32a294"/>
<rect x="261.00" y="541.25" width="1" height="15.00" fill="#32a294"/>
<rect x="260.00" y="545.00" width="3" height="8.75" fill="#32a294"/>
<rect x="265.00" y="512.00" width="1" height="41.75" fill="#32a294"/>
<rect x="264.00" y="515.75" width="3" height="29.75" fill="#32a294"/>
<rect x="269.00" y="513.00" width="1" height="27.00" fill="#e9534f"/>
<rect x="268.00" y="515.75" width="3" height="12.25" fill="#e9534f"/>
<rect x="273.00" y="422.00" width="1" height="110.50" fill="#32a294"/>
<rect x="272.00" y="460.00" width="3" height="68.00" fill="#32a294"/>
<rect x="278.00" y="383.25" width="1" height="77.25" fill="#32a294"/>
<rect x="277.00" y="399.25" width="3" height="61.25" fill="#32a294"/>
<rect x="282.00" y="392.00" width="1" height="43.00" fill="#e9534f"/>
<rect x="281.00" y="399.25" width="3" height="30.25" fill="#e9534f"/>
<rect x="286.00" y="393.75" width="1" height="53.75" fill="#32a294"/>
<rect x="285.00" y="406.25" width="3" height="23.75" fill="#32a294"/>
<rect x="291.00" y="343.00" width="1" height="65.75" fill="#32a294"/>
<rect x="290.00" y="367.50" width="3" height="39.50" fill="#32a294"/>
<rect x="295.00" y="357.00" width="1" height="35.50" fill="#e9534f"/>
<rect x="294.00" y="368.00" width="3" height="17.75" fill="#e9534f"/>
<rect x="299.00" y="360.00" width="1" height="49.25" fill="#e9534f"/>
<rect x="298.00" y="385.00" width="3" height="10.50" fill="#e9534f"/>
<rect x="304.00" y="372.00" width="1" height="27.50" fill="#32a294"/>
<rect x="303.00" y="392.00" width="3" height="3.50" fill="#32a294"/>
<rect x="308.00" y="367.50" width="1" height="69.50" fill="#e9534f"/>
<rect x="307.00" y="392.00" width="3" height="34.75" fill="#e9534f"/>
<rect x="312.00" y="402.50" width="1" height="25.50" fill="#32a294"/>
<rect x="311.00" y="419.50" width="3" height="7.25" fill="#32a294"/>
<rect x="317.00" y="335.00" width="1" height="85.75" fill="#32a294"/>
<rect x="316.00" y="353.75" width="3" height="65.75" fill="#32a294"/>
<rect x="321.00" y="342.00" width="1" height="23.50" fill="#e9534f"/>
<rect x="320.00" y="353.75" width="3" height="10.75" fill="#e9534f"/>
<rect x="325.00" y="357.00" width="1" height="43.00" fill="#e9534f"/>
<rect x="324.00" y="364.00" width="3" height="34.75" fill="#e9534f"/>
<rect x="330.00" y="374.25" width="1" height="35.75" fill="#e9534f"/>
<rect x="329.00" y="398.00" width="3" height="1.00" fill="#e9534f"/>
<rect x="334.00" y="391.25" width="1" height="207.00" fill="#e9534f"/>
<rect x="333.00" y="398.00" width="3" height="135.75" fill="#e9534f"/>
<rect x="338.00" y="531.25" width="1" height="154.50" fill="#e9534f"/>
<rect x="337.00" y="533.00" width="3" height="136.50" fill="#e9534f"/>
<rect x="342.00" y="524.25" width="1" height="152.75" fill="#32a294"/>
<rect x="341.00" y="556.25" width="3" height="113.25" fill="#32a294"/>
<rect x="347.00" y="548.00" width="1" height="62.75" fill="#e9534f"/>
<rect x="346.00" y="556.25" width="3" height="5.50" fill="#e9534f"/>
<rect x="351.00" y="558.75" width="1" height="30.25" fill="#e9534f"/>
<rect x="350.00" y="561.25" width="3" height="19.50" fill="#e9534f"/>
<rect x="355.00" y="568.75" width="1" height="40.75" fill="#e9534f"/>
<rect x="354.00" y="580.00" width="3" height="19.50" fill="#e9534f"/>
<rect x="360.00" y="558.75" width="1" height="67.75" fill="#32a294"/>
<rect x="359.00" y="587.00" width="3" height="12.50" fill="#32a294"/>
<rect x="364.00" y="557.50" width="1" height="35.00" fill="#32a294"/>
<rect x="363.00" y="580.75" width="3" height="6.75" fill="#32a294"/>
<rect x="368.00" y="572.00" width="1" height="48.00" fill="#e9534f"/>
<rect x="367.00" y="581.25" width="3" height="21.25" fill="#e9534f"/>
<rect x="373.00" y="595.00" width="1" height="25.00" fill="#e9534f"/>
<rect x="372.00" y="602.50" width="3" height="8.75" fill="#e9534f"/>
<rect x="377.00" y="592.00" width="1" height="19.75" fill="#32a294"/>
<rect x="376.00" y="603.75" width="3" height="8.00" fill="#32a294"/>
<rect x="381.00" y="592.50" width="1" height="18.75" fill="#32a294"/>
<rect x="380.00" y="600.50" width="3" height="4.50" fill="#32a294"/>
<rect x="386.00" y="597.50" width="1" height="52.00" fill="#e9534f"/>
<rect x="385.00" y="600.50" width="3" height="45.25" fill="#e9534f"/>
<rect x="390.00" y="643.00" width="1" height="37.75" fill="#e9534f"/>
<rect x="389.00" y="645.00" width="3" height="20.75" fill="#e9534f"/>
<rect x="394.00" y="645.00" width="1" height="39.00" fill="#32a294"/>
<rect x="393.00" y="646.25" width="3" height="19.50" fill="#32a294"/>
<rect x="399.00" y="617.00" width="1" height="35.75" fill="#32a294"/>
<rect x="398.00" y="619.50" width="3" height="27.50" fill="#32a294"/>
<rect x="403.00" y="602.50" width="1" height="19.50" fill="#32a294"/>
<rect x="402.00" y="609.25" width="3" height="11.50" fill="#32a294"/>
<rect x="407.00" y="606.25" width="1" height="20.75" fill="#e9534f"/>
<rect x="406.00" y="609.25" width="3" height="3.75" fill="#e9534f"/>
<rect x="412.00" y="590.00" width="1" height="22.50" fill="#32a294"/>
<rect x="411.00" y="607.50" width="3" height="5.00" fill="#32a294"/>
<rect x="416.00" y="598.00" width="1" height="18.25" fill="#e9534f"/>
<rect x="415.00" y="607.50" width="3" height="8.25" fill="#e9534f"/>
<rect x="420.00" y="612.50" width="1" height="26.25" fill="#e9534f"/>
<rect x="419.00" y="615.00" width="3" height="15.00" fill="#e9534f"/>
<rect x="424.00" y="595.00" width="1" height="40.00" fill="#32a294"/>
<rect x="423.00" y="600.50" width="3" height="29.50" fill="#32a294"/>
<rect x="429.00" y="548.00" width="1" height="55.75" fill="#32a294"/>
<rect x="428.00" y="555.75" width="3" height="45.50" fill="#32a294"/>
<rect x="433.00" y="551.25" width="1" height="22.50" fill="#e9534f"/>
<rect x="432.00" y="555.75" width="3" height="12.25" fill="#e9534f"/>
<rect x="437.00" y="553.75" width="1" height="18.75" fill="#32a294"/>
<rect x="436.00" y="556.25" width="3" height="11.75" fill="#32a294"/>
<rect x="442.00" y="549.50" width="1" height="39.75" fill="#e9534f"/>
<rect x="441.00" y="556.25" width="3" height="31.25" fill="#e9534f"/>
<rect x="446.00" y="561.25" width="1" height="26.25" fill="#32a294"/>
<rect x="445.00" y="563.75" width="3" height="23.75" fill="#32a294"/>
<rect x="450.00" y="550.00" width="1" height="32.50" fill="#e9534f"/>
<rect x="449.00" y="563.75" width="3" height="14.25" fill="#e9534f"/>
<rect x="455.00" y="568.00" width="1" height="17.00" fill="#32a294"/>
<rect x="454.00" y="569.25" width="3" height="8.75" fill="#32a294"/>
<rect x="459.00" y="565.50" width="1" height="33.25" fill="#e9534f"/>
<rect x="458.00" y="570.00" width="3" height="23.75" fill="#e9534f"/>
<rect x="463.00" y="557.50" width="1" height="40.00" fill="#32a294"/>
<rect x="462.00" y="564.25" width="3" height="29.50" fill="#32a294"/>
<rect x="468.00" y="554.25" width="1" height="24.50" fill="#e9534f"/>
<rect x="467.00" y="564.25" width="3" height="10.25" fill="#e9534f"/>
<rect x="472.00" y="562.50" width="1" height="13.75" fill="#32a294"/>
<rect x="471.00" y="572.50" width="3" height="2.50" fill="#32a294"/>
<rect x="476.00" y="562.00" width="1" height="15.50" fill="#e9534f"/>
<rect x="475.00" y="572.50" width="3" height="2.00" fill="#e9534f"/>
<rect x="481.00" y="565.00" width="1" height="22.00" fill="#32a294"/>
<rect x="480.00" y="567.00" width="3" height="7.50" fill="#32a294"/>
<rect x="485.00" y="523.75" width="1" height="54.25" fill="#32a294"/>
<rect x="484.00" y="541.25" width="3" height="26.25" fill="#32a294"/>
<rect x="489.00" y="523.75" width="1" height="29.25" fill="#e9534f"/>
<rect x="488.00" y="541.25" width="3" height="8.75" fill="#e9534f"/>
<rect x="493.00" y="547.50" width="1" height="27.50" fill="#e9534f"/>
<rect x="492.00" y="550.00" width="3" height="23.00" fill="#e9534f"/>
<rect x="498.00" y="566.25" width="1" height="70.75" fill="#e9534f"/>
<rect x="497.00" y="572.50" width="3" height="58.25" fill="#e9534f"/>
<rect x="502.00" y="617.00" width="1" height="15.00" fill="#32a294"/>
<rect x="501.00" y="618.00" width="3" height="12.75" fill="#32a294"/>
<rect x="506.00" y="613.75" width="1" height="11.25" fill="#e9534f"/>
<rect x="505.00" y="618.00" width="3" height="2.75" fill="#e9534f"/>
<rect x="511.00" y="614.50" width="1" height="24.25" fill="#e9534f"/>
<rect x="510.00" y="620.00" width="3" height="10.50" fill="#e9534f"/>
<rect x="515.00" y="593.00" width="1" height="39.00" fill="#32a294"/>
<rect x="514.00" y="600.50" width="3" height="29.50" fill="#32a294"/>
<rect x="519.00" y="597.50" width="1" height="10.50" fill="#e9534f"/>
<rect x="518.00" y="600.50" width="3" height="3.25" fill="#e9534f"/>
<rect x="524.00" y="589.50" width="1" height="32.25" fill="#32a294"/>
<rect x="523.00" y="600.50" width="3" height="3.25" fill="#32a294"/>
<rect x="528.00" y="593.00" width="1" height="12.00" fill="#32a294"/>
<rect x="527.00" y="598.75" width="3" height="2.50" fill="#32a294"/>
<rect x="532.00" y="595.75" width="1" height="6.75" fill="#32a294"/>
<rect x="531.00" y="599.12" width="3" height="1.00" fill="#32a294"/>
<rect x="537.00" y="597.00" width="1" height="16.75" fill="#e9534f"/>
<rect x="536.00" y="598.75" width="3" height="1.75" fill="#e9534f"/>
<rect x="541.00" y="593.25" width="1" height="8.00" fill="#32a294"/>
<rect x="540.00" y="594.25" width="3" height="6.25" fill="#32a294"/>
<rect x="545.00" y="592.50" width="1" height="17.50" fill="#e9534f"/>
<rect x="544.00" y="594.25" width="3" height="10.00" fill="#e9534f"/>
<rect x="550.00" y="602.50" width="1" height="19.50" fill="#e9534f"/>
<rect x="549.00" y="604.25" width="3" height="13.25" fill="#e9534f"/>
<rect x="554.00" y="608.00" width="1" height="10.00" fill="#32a294"/>
<rect x="553.00" y="610.00" width="3" height="7.50" fill="#32a294"/>
<rect x="558.00" y="610.00" width="1" height="10.75" fill="#e9534f"/>
<rect x="557.00" y="610.50" width="3" height="1.25" fill="#e9534f"/>
<rect x="562.00" y="606.25" width="1" height="10.00" fill="#e9534f"/>
<rect x="561.00" y="611.25" width="3" height="3.00" fill="#e9534f"/>
<rect x="567.00" y="608.75" width="1" height="7.00" fill="#32a294"/>
<rect x="566.00" y="611.25" width="3" height="3.00" fill="#32a294"/>
<rect x="571.00" y="597.00" width="1" height="18.00" fill="#32a294"/>
<rect x="570.00" y="603.25" width="3" height="8.50" fill="#32a294"/>
<rect x="575.00" y="599.25" width="1" height="7.75" fill="#32a294"/>
<rect x="574.00" y="602.38" width="3" height="1.00" fill="#32a294"/>
<rect x="580.00" y="569.25" width="1" height="34.50" fill="#32a294"/>
<rect x="579.00" y="578.00" width="3" height="25.00" fill="#32a294"/>
<rect x="584.00" y="577.00" width="1" height="8.50" fill="#e9534f"/>
<rect x="583.00" y="578.00" width="3" height="5.25" fill="#e9534f"/>
<rect x="588.00" y="565.75" width="1" height="23.75" fill="#32a294"/>
<rect x="587.00" y="570.00" width="3" height="13.00" fill="#32a294"/>
<rect x="593.00" y="570.00" width="1" height="4.50" fill="#e9534f"/>
<rect x="592.00" y="570.00" width="3" height="4.50" fill="#e9534f"/>
<rect x="597.00" y="556.25" width="1" height="20.75" fill="#32a294"/>
<rect x="596.00" y="559.50" width="3" height="15.50" fill="#32a294"/>
<rect x="601.00" y="527.00" width="1" height="33.50" fill="#32a294"/>
<rect x="600.00" y="541.25" width="3" height="18.75" fill="#32a294"/>
<rect x="606.00" y="525.75" width="1" height="17.25" fill="#32a294"/>
<rect x="605.00" y="533.00" width="3" height="9.00" fill="#32a294"/>
<rect x="610.00" y="495.00" width="1" height="45.75" fill="#32a294"/>
<rect x="609.00" y="500.75" width="3" height="32.25" fill="#32a294"/>
<rect x="614.00" y="473.00" width="1" height="49.50" fill="#32a294"/>
<rect x="613.00" y="485.50" width="3" height="15.75" fill="#32a294"/>
<rect x="619.00" y="458.00" width="1" height="35.75" fill="#32a294"/>
<rect x="618.00" y="466.25" width="3" height="21.25" fill="#32a294"/>
<rect x="623.00" y="380.00" width="1" height="86.75" fill="#32a294"/>
<rect x="622.00" y="408.00" width="3" height="58.75" fill="#32a294"/>
<rect x="627.00" y="398.75" width="1" height="28.75" fill="#32a294"/>
<rect x="626.00" y="407.00" width="3" height="1.75" fill="#32a294"/>
<rect x="632.00" y="376.25" width="1" height="48.75" fill="#32a294"/>
<rect x="631.00" y="393.00" width="3" height="15.00" fill="#32a294"/>
<rect x="636.00" y="375.00" width="1" height="37.50" fill="#e9534f"/>
<rect x="635.00" y="393.00" width="3" height="7.00" fill="#e9534f"/>
<rect x="640.00" y="374.25" width="1" height="74.50" fill="#e9534f"/>
<rect x="639.00" y="400.00" width="3" height="31.75" fill="#e9534f"/>
<rect x="644.00" y="401.25" width="1" height="30.50" fill="#32a294"/>
<rect x="643.00" y="408.00" width="3" height="23.75" fill="#32a294"/>
<rect x="649.00" y="340.00" width="1" height="72.50" fill="#32a294"/>
<rect x="648.00" y="345.00" width="3" height="63.75" fill="#32a294"/>
<rect x="653.00" y="334.25" width="1" height="36.25" fill="#e9534f"/>
<rect x="652.00" y="345.00" width="3" height="20.50" fill="#e9534f"/>
<rect x="657.00" y="344.25" width="1" height="33.25" fill="#32a294"/>
<rect x="656.00" y="364.25" width="3" height="1.75" fill="#32a294"/>
<rect x="662.00" y="352.50" width="1" height="35.00" fill="#e9534f"/>
<rect x="661.00" y="364.12" width="3" height="1.00" fill="#e9534f"/>
<rect x="666.00" y="357.00" width="1" height="61.75" fill="#e9534f"/>
<rect x="665.00" y="365.00" width="3" height="40.50" fill="#e9534f"/>
<rect x="670.00" y="357.00" width="1" height="69.75" fill="#32a294"/>
<rect x="669.00" y="373.00" width="3" height="32.50" fill="#32a294"/>
<rect x="675.00" y="360.00" width="1" height="31.25" fill="#e9534f"/>
<rect x="674.00" y="373.00" width="3" height="5.75" fill="#e9534f"/>
<rect x="679.00" y="367.50" width="1" height="40.00" fill="#e9534f"/>
<rect x="678.00" y="378.75" width="3" height="3.00" fill="#e9534f"/>
<rect x="683.00" y="376.25" width="1" height="27.50" fill="#e9534f"/>
<rect x="682.00" y="380.75" width="3" height="15.50" fill="#e9534f"/>
<rect x="688.00" y="345.00" width="1" height="53.00" fill="#32a294"/>
<rect x="687.00" y="353.75" width="3" height="43.25" fill="#32a294"/>
<rect x="692.00" y="352.50" width="1" height="67.00" fill="#e9534f"/>
<rect x="691.00" y="353.75" width="3" height="45.75" fill="#e9534f"/>
<rect x="696.00" y="378.25" width="1" height="23.00" fill="#32a294"/>
<rect x="695.00" y="388.00" width="3" height="11.50" fill="#32a294"/>
<rect x="701.00" y="352.00" width="1" height="51.75" fill="#32a294"/>
<rect x="700.00" y="356.25" width="3" height="32.50" fill="#32a294"/>
<rect x="705.00" y="313.00" width="1" height="47.75" fill="#32a294"/>
<rect x="704.00" y="355.00" width="3" height="2.00" fill="#32a294"/>
<rect x="709.00" y="337.00" width="1" height="27.50" fill="#32a294"/>
<rect x="708.00" y="343.00" width="3" height="13.25" fill="#32a294"/>
<rect x="713.00" y="325.00" width="1" height="28.00" fill="#32a294"/>
<rect x="712.00" y="342.00" width="3" height="2.00" fill="#32a294"/>
<rect x="718.00" y="338.00" width="1" height="35.75" fill="#e9534f"/>
<rect x="717.00" y="342.00" width="3" height="21.75" fill="#e9534f"/>
<rect x="722.00" y="346.25" width="1" height="30.50" fill="#e9534f"/>
<rect x="721.00" y="363.25" width="3" height="8.75" fill="#e9534f"/>
<rect x="726.00" y="335.00" width="1" height="38.00" fill="#32a294"/>
<rect x="725.00" y="338.00" width="3" height="34.00" fill="#32a294"/>
<rect x="731.00" y="323.00" width="1" height="39.00" fill="#e9534f"/>
<rect x="730.00" y="338.00" width="3" height="13.75" fill="#e9534f"/>
<rect x="735.00" y="347.50" width="1" height="77.50" fill="#e9534f"/>
<rect x="734.00" y="350.75" width="3" height="60.50" fill="#e9534f"/>
<rect x="739.00" y="406.25" width="1" height="35.50" fill="#e9534f"/>
<rect x="738.00" y="411.25" width="3" height="18.75" fill="#e9534f"/>
<rect x="744.00" y="411.75" width="1" height="24.50" fill="#32a294"/>
<rect x="743.00" y="413.75" width="3" height="16.25" fill="#32a294"/>
<rect x="748.00" y="410.00" width="1" height="30.75" fill="#e9534f"/>
<rect x="747.00" y="413.75" width="3" height="15.00" fill="#e9534f"/>
<rect x="752.00" y="422.50" width="1" height="35.50" fill="#e9534f"/>
<rect x="751.00" y="427.50" width="3" height="7.50" fill="#e9534f"/>
<rect x="757.00" y="397.00" width="1" height="47.50" fill="#32a294"/>
<rect x="756.00" y="405.00" width="3" height="30.00" fill="#32a294"/>
<rect x="761.00" y="333.75" width="1" height="78.00" fill="#32a294"/>
<rect x="760.00" y="335.75" width="3" height="70.00" fill="#32a294"/>
<rect x="765.00" y="296.25" width="1" height="63.00" fill="#e9534f"/>
<rect x="764.00" y="335.00" width="3" height="24.25" fill="#e9534f"/>
<rect x="770.00" y="309.50" width="1" height="52.50" fill="#32a294"/>
<rect x="769.00" y="325.00" width="3" height="33.75" fill="#32a294"/>
<rect x="774.00" y="313.00" width="1" height="20.00" fill="#e9534f"/>
<rect x="773.00" y="325.00" width="3" height="3.00" fill="#e9534f"/>
<rect x="778.00" y="307.00" width="1" height="33.75" fill="#e9534f"/>
<rect x="777.00" y="327.00" width="3" height="6.25" fill="#e9534f"/>
<rect x="782.00" y="310.75" width="1" height="39.25" fill="#32a294"/>
<rect x="781.00" y="320.50" width="3" height="12.75" fill="#32a294"/>
<rect x="787.00" y="313.00" width="1" height="45.00" fill="#e9534f"/>
<rect x="786.00" y="320.50" width="3" height="26.25" fill="#e9534f"/>
<rect x="791.00" y="343.75" width="1" height="38.25" fill="#e9534f"/>
<rect x="790.00" y="346.25" width="3" height="9.25" fill="#e9534f"/>
<rect x="795.00" y="335.00" width="1" height="27.50" fill="#32a294"/>
<rect x="794.00" y="350.75" width="3" height="4.75" fill="#32a294"/>
<rect x="800.00" y="343.00" width="1" height="51.25" fill="#e9534f"/>
<rect x="799.00" y="350.75" width="3" height="25.00" fill="#e9534f"/>
<rect x="804.00" y="373.25" width="1" height="30.50" fill="#e9534f"/>
<rect x="803.00" y="375.75" width="3" height="8.00" fill="#e9534f"/>
<rect x="808.00" y="350.75" width="1" height="35.50" fill="#32a294"/>
<rect x="807.00" y="355.75" width="3" height="28.75" fill="#32a294"/>
<rect x="813.00" y="342.00" width="1" height="31.75" fill="#e9534f"/>
<rect x="812.00" y="355.75" width="3" height="5.00" fill="#e9534f"/>
<rect x="817.00" y="352.00" width="1" height="28.50" fill="#e9534f"/>
<rect x="816.00" y="360.00" width="3" height="18.00" fill="#e9534f"/>
<rect x="821.00" y="339.50" width="1" height="42.50" fill="#32a294"/>
<rect x="820.00" y="342.00" width="3" height="36.00" fill="#32a294"/>
<rect x="826.00" y="335.00" width="1" height="33.00" fill="#e9534f"/>
<rect x="825.00" y="342.00" width="3" height="10.50" fill="#e9534f"/>
<rect x="830.00" y="350.00" width="1" height="65.00" fill="#e9534f"/>
<rect x="829.00" y="352.00" width="3" height="44.25" fill="#e9534f"/>
<rect x="834.00" y="393.00" width="1" height="15.75" fill="#e9534f"/>
<rect x="833.00" y="396.25" width="3" height="3.75" fill="#e9534f"/>
<rect x="839.00" y="386.25" width="1" height="19.25" fill="#e9534f"/>
<rect x="838.00" y="398.75" width="3" height="2.00" fill="#e9534f"/>
<rect x="843.00" y="390.00" width="1" height="14.50" fill="#32a294"/>
<rect x="842.00" y="398.25" width="3" height="2.50" fill="#32a294"/>
<rect x="847.00" y="388.75" width="1" height="31.75" fill="#e9534f"/>
<rect x="846.00" y="398.25" width="3" height="4.25" fill="#e9534f"/>
<rect x="851.00" y="397.50" width="1" height="25.00" fill="#e9534f"/>
<rect x="850.00" y="402.00" width="3" height="17.50" fill="#e9534f"/>
<rect x="856.00" y="412.00" width="1" height="77.89" fill="#e9534f"/>
<rect x="855.00" y="419.25" width="3" height="54.50" fill="#e9534f"/>
<rect x="860.00" y="467.00" width="1" height="44.89" fill="#e9534f"/>
<rect x="859.00" y="473.30" width="3" height="5.40" fill="#e9534f"/>
<rect x="864.00" y="443.75" width="1" height="42.12" fill="#32a294"/>
<rect x="863.00" y="447.00" width="3" height="31.71" fill="#32a294"/>
<rect x="869.00" y="375.00" width="1" height="85.00" fill="#32a294"/>
<rect x="868.00" y="385.00" width="3" height="63.00" fill="#32a294"/>
<rect x="873.00" y="321.25" width="1" height="76.25" fill="#32a294"/>
<rect x="872.00" y="333.75" width="3" height="51.75" fill="#32a294"/>
<rect x="877.00" y="273.00" width="1" height="69.00" fill="#32a294"/>
<rect x="876.00" y="318.75" width="3" height="15.75" fill="#32a294"/>
<rect x="882.00" y="310.00" width="1" height="60.50" fill="#e9534f"/>
<rect x="881.00" y="318.75" width="3" height="28.75" fill="#e9534f"/>
<rect x="886.00" y="325.00" width="1" height="32.00" fill="#32a294"/>
<rect x="885.00" y="335.00" width="3" height="13.00" fill="#32a294"/>
<rect x="890.00" y="262.50" width="1" height="78.25" fill="#32a294"/>
<rect x="889.00" y="267.50" width="3" height="68.25" fill="#32a294"/>
<rect x="895.00" y="238.00" width="1" height="54.50" fill="#e9534f"/>
<rect x="894.00" y="267.50" width="3" height="19.25" fill="#e9534f"/>
<rect x="899.00" y="238.00" width="1" height="48.75" fill="#32a294"/>
<rect x="898.00" y="272.50" width="3" height="14.25" fill="#32a294"/>
<rect x="903.00" y="260.00" width="1" height="45.50" fill="#e9534f"/>
<rect x="902.00" y="271.75" width="3" height="30.25" fill="#e9534f"/>
<rect x="908.00" y="243.00" width="1" height="65.75" fill="#32a294"/>
<rect x="907.00" y="261.75" width="3" height="40.25" fill="#32a294"/>
<rect x="912.00" y="250.00" width="1" height="63.75" fill="#e9534f"/>
<rect x="911.00" y="261.75" width="3" height="39.00" fill="#e9534f"/>
<rect x="916.00" y="230.75" width="1" height="72.25" fill="#32a294"/>
<rect x="915.00" y="255.00" width="3" height="45.75" fill="#32a294"/>
<rect x="921.00" y="251.75" width="1" height="53.25" fill="#e9534f"/>
<rect x="920.00" y="255.00" width="3" height="37.50" fill="#e9534f"/>
<rect x="925.00" y="283.75" width="1" height="28.75" fill="#e9534f"/>
<rect x="924.00" y="292.00" width="3" height="6.00" fill="#e9534f"/>
<rect x="929.00" y="264.25" width="1" height="34.50" fill="#32a294"/>
<rect x="928.00" y="278.00" width="3" height="20.00" fill="#32a294"/>
<rect x="933.00" y="274.50" width="1" height="55.39" fill="#e9534f"/>
<rect x="932.00" y="278.00" width="3" height="35.75" fill="#e9534f"/>
<rect x="938.00" y="266.25" width="1" height="56.48" fill="#32a294"/>
<rect x="937.00" y="280.00" width="3" height="33.75" fill="#32a294"/>
<rect x="942.00" y="250.00" width="1" height="31.25" fill="#32a294"/>
<rect x="941.00" y="267.50" width="3" height="13.00" fill="#32a294"/>
<rect x="946.00" y="248.00" width="1" height="37.50" fill="#32a294"/>
<rect x="945.00" y="267.00" width="3" height="1.75" fill="#32a294"/>
<rect x="951.00" y="237.00" width="1" height="38.00" fill="#32a294"/>
<rect x="950.00" y="251.75" width="3" height="16.25" fill="#32a294"/>
<rect x="955.00" y="240.00" width="1" height="19.25" fill="#e9534f"/>
<rect x="954.00" y="251.25" width="3" height="1.75" fill="#e9534f"/>
<rect x="959.00" y="250.00" width="1" height="29.50" fill="#e9534f"/>
<rect x="958.00" y="252.00" width="3" height="15.50" fill="#e9534f"/>
<rect x="964.00" y="240.75" width="1" height="44.75" fill="#32a294"/>
<rect x="963.00" y="258.75" width="3" height="9.25" fill="#32a294"/>
<rect x="968.00" y="211.75" width="1" height="50.75" fill="#32a294"/>
<rect x="967.00" y="223.00" width="3" height="36.25" fill="#32a294"/>
<rect x="972.00" y="182.00" width="1" height="45.00" fill="#32a294"/>
<rect x="971.00" y="201.25" width="3" height="22.50" fill="#32a294"/>
<rect x="977.00" y="200.75" width="1" height="31.75" fill="#e9534f"/>
<rect x="976.00" y="201.25" width="3" height="21.75" fill="#e9534f"/>
<rect x="981.00" y="216.25" width="1" height="24.25" fill="#e9534f"/>
<rect x="980.00" y="222.00" width="3" height="5.50" fill="#e9534f"/>
<rect x="985.00" y="218.75" width="1" height="18.75" fill="#e9534f"/>
<rect x="984.00" y="227.00" width="3" height="9.25" fill="#e9534f"/>
<rect x="990.00" y="222.00" width="1" height="27.50" fill="#32a294"/>
<rect x="989.00" y="230.00" width="3" height="6.25" fill="#32a294"/>
<rect x="994.00" y="195.00" width="1" height="42.00" fill="#32a294"/>
<rect x="993.00" y="200.00" width="3" height="30.75" fill="#32a294"/>
<rect x="998.00" y="183.75" width="1" height="31.75" fill="#e9534f"/>
<rect x="997.00" y="200.00" width="3" height="11.75" fill="#e9534f"/>
<rect x="1002.00" y="187.00" width="1" height="45.50" fill="#32a294"/>
<rect x="1001.00" y="196.25" width="3" height="16.25" fill="#32a294"/>
<rect x="1007.00" y="133.75" width="1" height="70.75" fill="#32a294"/>
<rect x="1006.00" y="140.50" width="3" height="56.50" fill="#32a294"/>
<rect x="1011.00" y="74.25" width="1" height="93.25" fill="#32a294"/>
<rect x="1010.00" y="89.50" width="3" height="52.25" fill="#32a294"/>
<rect x="1015.00" y="83.75" width="1" height="22.50" fill="#e9534f"/>
<rect x="1014.00" y="90.00" width="3" height="6.75" fill="#e9534f"/>
<rect x="1020.00" y="68.00" width="1" height="36.50" fill="#32a294"/>
<rect x="1019.00" y="80.00" width="3" height="16.75" fill="#32a294"/>
<rect x="1024.00" y="78.75" width="1" height="36.75" fill="#e9534f"/>
<rect x="1023.00" y="80.00" width="3" height="25.50" fill="#e9534f"/>
<rect x="1028.00" y="76.75" width="1" height="42.75" fill="#32a294"/>
<rect x="1027.00" y="88.75" width="3" height="16.75" fill="#32a294"/>
<rect x="1033.00" y="88.00" width="1" height="105.00" fill="#e9534f"/>
<rect x="1032.00" y="88.75" width="3" height="99.25" fill="#e9534f"/>
<rect x="1037.00" y="159.25" width="1" height="41.25" fill="#32a294"/>
<rect x="1036.00" y="181.25" width="3" height="6.75" fill="#32a294"/>
<rect x="1041.00" y="174.25" width="1" height="73.25" fill="#e9534f"/>
<rect x="1040.00" y="182.00" width="3" height="55.00" fill="#e9534f"/>
<rect x="1046.00" y="214.25" width="1" height="24.50" fill="#32a294"/>
<rect x="1045.00" y="221.25" width="3" height="15.75" fill="#32a294"/>
<rect x="1050.00" y="217.50" width="1" height="25.00" fill="#e9534f"/>
<rect x="1049.00" y="221.25" width="3" height="8.00" fill="#e9534f"/>
<rect x="1054.00" y="213.25" width="1" height="46.25" fill="#e9534f"/>
<rect x="1053.00" y="229.25" width="3" height="11.25" fill="#e9534f"/>
<rect x="1059.00" y="218.75" width="1" height="42.50" fill="#32a294"/>
<rect x="1058.00" y="225.75" width="3" height="14.75" fill="#32a294"/>
<rect x="1063.00" y="170.00" width="1" height="101.75" fill="#e9534f"/>
<rect x="1062.00" y="225.75" width="3" height="1.00" fill="#e9534f"/>
<rect x="1067.00" y="183.00" width="1" height="45.75" fill="#32a294"/>
<rect x="1066.00" y="202.50" width="3" height="24.25" fill="#32a294"/>
<rect x="1071.00" y="193.25" width="1" height="27.25" fill="#e9534f"/>
<rect x="1070.00" y="202.50" width="3" height="9.25" fill="#e9534f"/>
<rect x="1076.00" y="195.00" width="1" height="20.00" fill="#32a294"/>
<rect x="1075.00" y="202.50" width="3" height="9.25" fill="#32a294"/>
<rect x="1080.00" y="184.25" width="1" height="41.50" fill="#e9534f"/>
<rect x="1079.00" y="202.50" width="3" height="22.00" fill="#e9534f"/>
<rect x="1084.00" y="215.50" width="1" height="45.00" fill="#e9534f"/>
<rect x="1083.00" y="224.25" width="3" height="22.00" fill="#e9534f"/>
<rect x="1089.00" y="216.75" width="1" height="34.00" fill="#32a294"/>
<rect x="1088.00" y="224.25" width="3" height="23.25" fill="#32a294"/>
<rect x="1093.00" y="197.00" width="1" height="28.00" fill="#32a294"/>
<rect x="1092.00" y="204.25" width="3" height="20.00" fill="#32a294"/>
<rect x="1097.00" y="197.00" width="1" height="28.75" fill="#e9534f"/>
<rect x="1096.00" y="204.25" width="3" height="17.00" fill="#e9534f"/>
<rect x="1102.00" y="134.02" width="1" height="85.84" fill="#32a294"/>
<rect x="1101.00" y="151.99" width="3" height="67.86" fill="#32a294"/>
<rect x="1106.00" y="136.91" width="1" height="89.84" fill="#e9534f"/>
<rect x="1105.00" y="151.99" width="3" height="55.67" fill="#e9534f"/>
<rect x="1110.00" y="186.03" width="1" height="36.70" fill="#e9534f"/>
<rect x="1109.00" y="207.02" width="3" height="15.71" fill="#e9534f"/>
<rect x="1115.00" y="215.19" width="1" height="41.72" fill="#e9534f"/>
<rect x="1114.00" y="223.11" width="3" height="13.45" fill="#e9534f"/>
<rect x="1119.00" y="228.01" width="1" height="17.97" fill="#e9534f"/>
<rect x="1118.00" y="235.93" width="3" height="1.89" fill="#e9534f"/>
<rect x="1123.00" y="212.93" width="1" height="56.05" fill="#e9534f"/>
<rect x="1122.00" y="237.18" width="3" height="3.52" fill="#e9534f"/>
<rect x="1128.00" y="240.07" width="1" height="40.83" fill="#e9534f"/>
<rect x="1127.00" y="240.07" width="3" height="27.52" fill="#e9534f"/>
<rect x="1132.00" y="255.03" width="1" height="43.84" fill="#32a294"/>
<rect x="1131.00" y="260.06" width="3" height="7.54" fill="#32a294"/>
<rect x="1136.00" y="255.03" width="1" height="15.71" fill="#e9534f"/>
<rect x="1135.00" y="260.06" width="3" height="7.54" fill="#e9534f"/>
<rect x="1141.00" y="250.00" width="1" height="19.86" fill="#32a294"/>
<rect x="1140.00" y="263.95" width="3" height="3.64" fill="#32a294"/>
<rect x="1145.00" y="237.18" width="1" height="35.82" fill="#32a294"/>
<rect x="1144.00" y="255.03" width="3" height="10.05" fill="#32a294"/>
<rect x="1149.00" y="245.98" width="1" height="20.11" fill="#32a294"/>
<rect x="1148.00" y="251.01" width="3" height="4.78" fill="#32a294"/>
<rect x="1153.00" y="244.09" width="1" height="29.91" fill="#e9534f"/>
<rect x="1152.00" y="250.00" width="3" height="2.89" fill="#e9534f"/>
<rect x="1158.00" y="245.98" width="1" height="33.91" fill="#e9534f"/>
<rect x="1157.00" y="252.01" width="3" height="12.82" fill="#e9534f"/>
<rect x="1162.00" y="247.86" width="1" height="18.47" fill="#32a294"/>
<rect x="1161.00" y="257.04" width="3" height="7.79" fill="#32a294"/>
<rect x="1166.00" y="246.99" width="1" height="12.82" fill="#32a294"/>
<rect x="1165.00" y="252.89" width="3" height="4.78" fill="#32a294"/>
<rect x="1171.00" y="247.86" width="1" height="19.10" fill="#e9534f"/>
<rect x="1170.00" y="252.89" width="3" height="10.05" fill="#e9534f"/>
<rect x="1175.00" y="249.12" width="1" height="19.86" fill="#32a294"/>
<rect x="1174.00" y="254.15" width="3" height="8.80" fill="#32a294"/>
<rect x="1179.00" y="222.10" width="1" height="32.68" fill="#32a294"/>
<rect x="1178.00" y="233.04" width="3" height="21.74" fill="#32a294"/>
<rect x="1184.00" y="233.04" width="1" height="43.72" fill="#e9534f"/>
<rect x="1183.00" y="233.04" width="3" height="31.53" fill="#e9534f"/>
<rect x="1188.00" y="258.92" width="1" height="27.88" fill="#e9534f"/>
<rect x="1187.00" y="264.18" width="3" height="2.53" fill="#e9534f"/>
<line x1="4" x2="1354" y1="266.4" y2="266.4" stroke="#e9534f" stroke-width="1" stroke-dasharray="1 2"/>
<line x1="1407.5" x2="1407.5" y1="0" y2="755" stroke="#dcdfe6" stroke-width="1" shape-rendering="crispEdges"/>
</svg>
<div class="strip"></div><div class="corner"><i></i></div><div class="bottom"></div>
<svg width="20" height="20" viewBox="0 0 20 20" style="position:absolute;left:12px;top:6px">
<circle cx="10" cy="10" r="9" fill="#f0f3fa"/>
<path d="M10 3.1 L5.8 10.2 L10 8.2 Z" fill="#c6a6ee"/>
<path d="M10 3.1 L14.1 10.2 L10 8.2 Z" fill="#8ceeee"/>
<path d="M5.8 10.2 L10 8.2 L10 16.6 Z" fill="#6f86ee"/>
<path d="M14.1 10.2 L10 8.2 L10 16.6 Z" fill="#bd90ee"/>
</svg>
<div class="title"><span style="left:-0.25px;transform:scaleX(1.027)">Ethereum</span> <span style="left:75.60px;transform:scaleX(1.28)">/</span> <span style="left:86.50px;transform:scaleX(0.99)">U.S.</span> <span style="left:121.65px;transform:scaleX(1.049)">Dollar</span> <span style="left:168.20px;transform:scaleX(1)">·</span> <span style="left:177.00px;transform:scaleX(0.883)">1D</span> <span style="left:198.10px;transform:scaleX(1)">·</span> <span style="left:206.60px;transform:scaleX(0.895)">KRAKEN</span> </div>
<svg width="20" height="20" viewBox="0 0 20 20" style="position:absolute;left:312px;top:6px">
<circle cx="10" cy="10" r="8.9" fill="#dff2ec"/><circle cx="10" cy="10" r="4.1" fill="#2a9d7d"/></svg>
<div class="btn"><svg width="10" height="6" viewBox="0 0 10 6" style="position:absolute;left:4.7px;top:7.3px"><path d="M1 1 L5 4.6 L9 1" fill="none" stroke="#131722" stroke-width="1.3"/></svg><span style="position:absolute;left:19.3px;top:3.1px;line-height:14px">2</span></div>
<div class="usd">USD</div>
<svg width="8" height="6" viewBox="0 0 8 6" style="position:absolute;left:1440px;top:10.4px"><path d="M1.2 1.2 L3.7 3.6 L6.2 1.2" fill="none" stroke="#131722" stroke-width="1.2"/></svg>
<div class="pl" style="top:719.85px">1000.00</div><div class="pl" style="top:662.10px">1100.00</div><div class="pl" style="top:604.35px">1200.00</div><div class="pl" style="top:546.60px">1300.00</div><div class="pl" style="top:488.85px">1400.00</div><div class="pl" style="top:431.10px">1500.00</div><div class="pl" style="top:373.35px">1600.00</div><div class="pl" style="top:315.60px">1700.00</div><div class="pl" style="top:257.85px">1800.00</div><div class="pl" style="top:200.10px">1900.00</div><div class="pl" style="top:142.35px">2000.00</div><div class="pl" style="top:84.60px">2100.00</div><div class="pl" style="top:26.85px">2200.00</div>
<div class="tag" style="left:1354px;top:258px;width:52px;height:17px;border-radius:2px 0 0 2px;"><span style="position:absolute;left:4.8px;top:1.6px;transform:scaleX(0.855);transform-origin:0 0">ETHUSD</span></div>
<div class="tag" style="left:1407px;top:258px;width:60px;height:31px;border-radius:0 2px 2px 0;"><span style="position:absolute;left:8.5px;top:1.6px;letter-spacing:-0.3px">1796.27</span><span style="position:absolute;left:8.5px;top:15.6px;letter-spacing:-0.12px;opacity:0.85">10:07:34</span></div>
</body></html>
